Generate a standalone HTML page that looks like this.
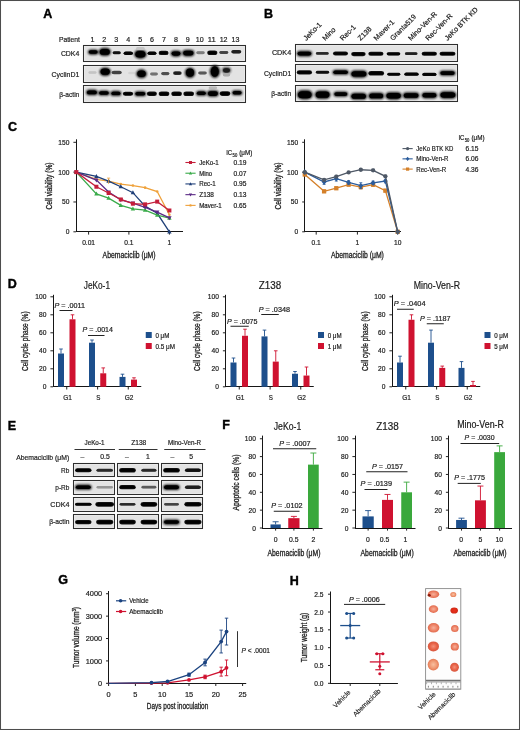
<!DOCTYPE html>
<html><head><meta charset="utf-8"><title>Figure</title>
<style>
html,body{margin:0;padding:0;background:#fff;}
svg{display:block;font-family:"Liberation Sans",sans-serif;will-change:transform;}
text{stroke:#1c1c1c;stroke-width:0.2px;}
</style></head>
<body>
<svg width="520" height="730" viewBox="0 0 520 730">
<defs>
<filter id="bl" x="-50%" y="-80%" width="200%" height="260%"><feGaussianBlur stdDeviation="0.75"/></filter>
<filter id="b5" x="-50%" y="-100%" width="200%" height="300%"><feGaussianBlur stdDeviation="0.5"/></filter>
<filter id="b6" x="-50%" y="-100%" width="200%" height="300%"><feGaussianBlur stdDeviation="0.6"/></filter>
<filter id="b7" x="-50%" y="-100%" width="200%" height="300%"><feGaussianBlur stdDeviation="0.7"/></filter>
<filter id="b8" x="-50%" y="-100%" width="200%" height="300%"><feGaussianBlur stdDeviation="0.8"/></filter>
<filter id="b9" x="-50%" y="-100%" width="200%" height="300%"><feGaussianBlur stdDeviation="0.9"/></filter>
<filter id="b10" x="-50%" y="-100%" width="200%" height="300%"><feGaussianBlur stdDeviation="1.0"/></filter>
<filter id="b11" x="-50%" y="-100%" width="200%" height="300%"><feGaussianBlur stdDeviation="1.1"/></filter>
<filter id="bl2" x="-50%" y="-100%" width="200%" height="300%"><feGaussianBlur stdDeviation="0.45"/></filter>
<radialGradient id="tgA"><stop offset="0" stop-color="#f6b09a"/><stop offset="0.6" stop-color="#ee8468"/><stop offset="1" stop-color="#e06a4c"/></radialGradient>
<radialGradient id="tgB"><stop offset="0" stop-color="#f8c0a0"/><stop offset="0.6" stop-color="#f09a74"/><stop offset="1" stop-color="#e47a54"/></radialGradient>
<radialGradient id="tgC"><stop offset="0" stop-color="#e8321c"/><stop offset="0.7" stop-color="#dc2a18"/><stop offset="1" stop-color="#c82818"/></radialGradient>
<radialGradient id="tgC2"><stop offset="0" stop-color="#f4907a"/><stop offset="0.6" stop-color="#e86448"/><stop offset="1" stop-color="#d8563e"/></radialGradient>
<filter id="bs" x="-50%" y="-50%" width="200%" height="200%"><feGaussianBlur stdDeviation="0.5"/></filter>
</defs>
<rect x="0" y="0" width="520" height="730" fill="#fff"/>
<text x="43.14" y="18.00" font-size="12.5" font-weight="bold" fill="#000" style="stroke:#000;stroke-width:0.4px">A</text>
<text x="59.00" y="42.20" font-size="7.5" text-anchor="start" fill="#1c1c1c" textLength="21.00" lengthAdjust="spacingAndGlyphs" >Patient</text>
<text x="92.40" y="42.20" font-size="7.5" text-anchor="middle" fill="#1c1c1c" textLength="3.96" lengthAdjust="spacingAndGlyphs" >1</text>
<text x="104.33" y="42.20" font-size="7.5" text-anchor="middle" fill="#1c1c1c" textLength="3.96" lengthAdjust="spacingAndGlyphs" >2</text>
<text x="116.26" y="42.20" font-size="7.5" text-anchor="middle" fill="#1c1c1c" textLength="3.96" lengthAdjust="spacingAndGlyphs" >3</text>
<text x="128.19" y="42.20" font-size="7.5" text-anchor="middle" fill="#1c1c1c" textLength="3.96" lengthAdjust="spacingAndGlyphs" >4</text>
<text x="140.12" y="42.20" font-size="7.5" text-anchor="middle" fill="#1c1c1c" textLength="3.96" lengthAdjust="spacingAndGlyphs" >5</text>
<text x="152.05" y="42.20" font-size="7.5" text-anchor="middle" fill="#1c1c1c" textLength="3.96" lengthAdjust="spacingAndGlyphs" >6</text>
<text x="163.98" y="42.20" font-size="7.5" text-anchor="middle" fill="#1c1c1c" textLength="3.96" lengthAdjust="spacingAndGlyphs" >7</text>
<text x="175.91" y="42.20" font-size="7.5" text-anchor="middle" fill="#1c1c1c" textLength="3.96" lengthAdjust="spacingAndGlyphs" >8</text>
<text x="187.84" y="42.20" font-size="7.5" text-anchor="middle" fill="#1c1c1c" textLength="3.96" lengthAdjust="spacingAndGlyphs" >9</text>
<text x="199.77" y="42.20" font-size="7.5" text-anchor="middle" fill="#1c1c1c" textLength="7.92" lengthAdjust="spacingAndGlyphs" >10</text>
<text x="211.70" y="42.20" font-size="7.5" text-anchor="middle" fill="#1c1c1c" textLength="7.92" lengthAdjust="spacingAndGlyphs" >11</text>
<text x="223.63" y="42.20" font-size="7.5" text-anchor="middle" fill="#1c1c1c" textLength="7.92" lengthAdjust="spacingAndGlyphs" >12</text>
<text x="235.56" y="42.20" font-size="7.5" text-anchor="middle" fill="#1c1c1c" textLength="7.92" lengthAdjust="spacingAndGlyphs" >13</text>
<rect x="83.50" y="45.50" width="162.00" height="16.00" fill="#e3e3e3" stroke="#2e2e2e" stroke-width="1.05"/>
<rect x="84.60" y="46.60" width="159.80" height="13.80" fill="none" stroke="#eeeeee" stroke-width="0.7"/>
<text x="79.30" y="56.14" font-size="7.6" text-anchor="end" fill="#1c1c1c" textLength="18.40" lengthAdjust="spacingAndGlyphs" >CDK4</text>
<rect x="83.50" y="65.50" width="162.00" height="17.00" fill="#e3e3e3" stroke="#2e2e2e" stroke-width="1.05"/>
<rect x="84.60" y="66.60" width="159.80" height="14.80" fill="none" stroke="#eeeeee" stroke-width="0.7"/>
<text x="79.30" y="76.54" font-size="7.6" text-anchor="end" fill="#1c1c1c" textLength="27.70" lengthAdjust="spacingAndGlyphs" >CyclinD1</text>
<rect x="83.50" y="85.50" width="162.00" height="17.00" fill="#e3e3e3" stroke="#2e2e2e" stroke-width="1.05"/>
<rect x="84.60" y="86.60" width="159.80" height="14.80" fill="none" stroke="#eeeeee" stroke-width="0.7"/>
<text x="79.30" y="96.54" font-size="7.6" text-anchor="end" fill="#1c1c1c" textLength="20.00" lengthAdjust="spacingAndGlyphs" >β-actin</text>
<rect x="87.89" y="49.49" width="10.61" height="5.21" rx="3.16" ry="2.61" fill="rgb(0,0,0)" filter="url(#b8)" opacity="0.9"/>
<rect x="88.73" y="50.33" width="8.93" height="3.53" rx="2.19" ry="1.77" fill="rgb(0,0,0)" filter="url(#b5)"/>
<rect x="98.65" y="47.85" width="12.31" height="8.11" rx="4.93" ry="4.05" fill="rgb(0,0,0)" filter="url(#b10)" opacity="0.9"/>
<rect x="99.75" y="48.95" width="10.09" height="5.89" rx="3.65" ry="2.95" fill="rgb(0,0,0)" filter="url(#b5)"/>
<rect x="112.62" y="51.27" width="8.17" height="3.07" rx="1.85" ry="1.53" fill="rgb(16,16,16)" filter="url(#b6)" opacity="0.9"/>
<rect x="112.85" y="51.50" width="7.70" height="2.60" rx="1.61" ry="1.30" fill="rgb(16,16,16)" filter="url(#b5)" opacity="0.85"/>
<rect x="123.60" y="51.45" width="9.40" height="3.50" rx="2.11" ry="1.75" fill="rgb(4,4,4)" filter="url(#b6)" opacity="0.9"/>
<rect x="123.85" y="51.70" width="8.90" height="3.00" rx="1.86" ry="1.50" fill="rgb(4,4,4)" filter="url(#b5)" opacity="0.85"/>
<rect x="134.17" y="49.77" width="12.46" height="8.86" rx="5.39" ry="4.43" fill="rgb(0,0,0)" filter="url(#b11)" opacity="0.9"/>
<rect x="135.35" y="50.95" width="10.10" height="6.50" rx="4.03" ry="3.25" fill="rgb(0,0,0)" filter="url(#b5)"/>
<rect x="147.50" y="51.45" width="9.00" height="3.50" rx="2.11" ry="1.75" fill="rgb(4,4,4)" filter="url(#b6)" opacity="0.9"/>
<rect x="147.75" y="51.70" width="8.50" height="3.00" rx="1.86" ry="1.50" fill="rgb(4,4,4)" filter="url(#b5)" opacity="0.85"/>
<rect x="158.62" y="50.72" width="9.95" height="4.35" rx="2.63" ry="2.18" fill="rgb(0,0,0)" filter="url(#b7)" opacity="0.9"/>
<rect x="159.38" y="51.48" width="8.43" height="2.83" rx="1.76" ry="1.42" fill="rgb(0,0,0)" filter="url(#b5)"/>
<rect x="170.67" y="50.57" width="10.67" height="6.07" rx="3.68" ry="3.03" fill="rgb(0,0,0)" filter="url(#b8)" opacity="0.9"/>
<rect x="171.59" y="51.49" width="8.83" height="4.23" rx="2.62" ry="2.11" fill="rgb(0,0,0)" filter="url(#b5)"/>
<rect x="182.19" y="49.64" width="12.23" height="6.93" rx="4.21" ry="3.46" fill="rgb(0,0,0)" filter="url(#b9)" opacity="0.9"/>
<rect x="183.19" y="50.64" width="10.23" height="4.93" rx="3.06" ry="2.46" fill="rgb(0,0,0)" filter="url(#b5)"/>
<rect x="196.27" y="51.32" width="8.46" height="2.96" rx="1.78" ry="1.48" fill="rgb(124,124,124)" filter="url(#b6)" opacity="0.9"/>
<rect x="196.50" y="51.55" width="8.00" height="2.50" rx="1.55" ry="1.25" fill="rgb(124,124,124)" filter="url(#b5)" opacity="0.85"/>
<rect x="207.27" y="50.52" width="10.07" height="4.57" rx="2.76" ry="2.28" fill="rgb(0,0,0)" filter="url(#b7)" opacity="0.9"/>
<rect x="208.05" y="51.30" width="8.51" height="3.01" rx="1.86" ry="1.50" fill="rgb(0,0,0)" filter="url(#b5)"/>
<rect x="219.32" y="51.02" width="8.96" height="2.96" rx="1.78" ry="1.48" fill="rgb(64,64,64)" filter="url(#b6)" opacity="0.9"/>
<rect x="219.55" y="51.25" width="8.50" height="2.50" rx="1.55" ry="1.25" fill="rgb(64,64,64)" filter="url(#b5)" opacity="0.85"/>
<rect x="231.30" y="50.05" width="10.00" height="3.50" rx="2.11" ry="1.75" fill="rgb(28,28,28)" filter="url(#b6)" opacity="0.9"/>
<rect x="231.55" y="50.30" width="9.50" height="3.00" rx="1.86" ry="1.50" fill="rgb(28,28,28)" filter="url(#b5)" opacity="0.85"/>
<rect x="88.44" y="71.29" width="8.12" height="2.42" rx="1.45" ry="1.21" fill="rgb(196,196,196)" filter="url(#b5)" opacity="0.9"/>
<rect x="88.65" y="71.50" width="7.70" height="2.00" rx="1.24" ry="1.00" fill="rgb(196,196,196)" filter="url(#b5)" opacity="0.85"/>
<rect x="99.43" y="67.43" width="11.53" height="8.53" rx="5.19" ry="4.27" fill="rgb(0,0,0)" filter="url(#b10)" opacity="0.9"/>
<rect x="100.58" y="68.58" width="9.24" height="6.24" rx="3.87" ry="3.12" fill="rgb(0,0,0)" filter="url(#b5)"/>
<rect x="111.70" y="70.85" width="10.00" height="3.50" rx="2.11" ry="1.75" fill="rgb(64,64,64)" filter="url(#b6)" opacity="0.9"/>
<rect x="111.95" y="71.10" width="9.50" height="3.00" rx="1.86" ry="1.50" fill="rgb(64,64,64)" filter="url(#b5)" opacity="0.85"/>
<rect x="128.29" y="71.79" width="6.42" height="2.42" rx="1.45" ry="1.21" fill="rgb(212,212,212)" filter="url(#b5)" opacity="0.9"/>
<rect x="128.50" y="72.00" width="6.00" height="2.00" rx="1.24" ry="1.00" fill="rgb(212,212,212)" filter="url(#b5)" opacity="0.85"/>
<rect x="136.07" y="69.37" width="10.86" height="8.86" rx="5.39" ry="4.43" fill="rgb(0,0,0)" filter="url(#b11)" opacity="0.9"/>
<rect x="137.25" y="70.55" width="8.50" height="6.50" rx="4.03" ry="3.25" fill="rgb(0,0,0)" filter="url(#b5)"/>
<rect x="150.12" y="72.52" width="7.76" height="2.96" rx="1.78" ry="1.48" fill="rgb(112,112,112)" filter="url(#b6)" opacity="0.9"/>
<rect x="150.35" y="72.75" width="7.30" height="2.50" rx="1.55" ry="1.25" fill="rgb(112,112,112)" filter="url(#b5)" opacity="0.85"/>
<rect x="161.21" y="71.96" width="8.18" height="3.28" rx="1.98" ry="1.64" fill="rgb(76,76,76)" filter="url(#b6)" opacity="0.9"/>
<rect x="161.45" y="72.20" width="7.70" height="2.80" rx="1.74" ry="1.40" fill="rgb(76,76,76)" filter="url(#b5)" opacity="0.85"/>
<rect x="173.09" y="71.24" width="8.61" height="3.71" rx="2.24" ry="1.86" fill="rgb(28,28,28)" filter="url(#b6)" opacity="0.9"/>
<rect x="173.80" y="71.95" width="7.21" height="2.31" rx="1.43" ry="1.15" fill="rgb(28,28,28)" filter="url(#b5)"/>
<rect x="184.76" y="67.41" width="10.48" height="10.58" rx="5.24" ry="5.29" fill="rgb(0,0,0)" filter="url(#b11)" opacity="0.9"/>
<rect x="185.97" y="68.62" width="8.06" height="8.16" rx="4.03" ry="4.08" fill="rgb(0,0,0)" filter="url(#b5)"/>
<rect x="198.27" y="71.52" width="8.46" height="2.96" rx="1.78" ry="1.48" fill="rgb(88,88,88)" filter="url(#b6)" opacity="0.9"/>
<rect x="198.50" y="71.75" width="8.00" height="2.50" rx="1.55" ry="1.25" fill="rgb(88,88,88)" filter="url(#b5)" opacity="0.85"/>
<rect x="209.61" y="65.06" width="10.38" height="12.88" rx="5.19" ry="6.44" fill="rgb(0,0,0)" filter="url(#b11)" opacity="0.9"/>
<rect x="210.82" y="66.27" width="7.96" height="10.46" rx="3.98" ry="5.23" fill="rgb(0,0,0)" filter="url(#b5)"/>
<rect x="222.16" y="67.21" width="8.68" height="6.18" rx="3.75" ry="3.09" fill="rgb(28,28,28)" filter="url(#b8)" opacity="0.9"/>
<rect x="223.09" y="68.14" width="6.82" height="4.32" rx="2.68" ry="2.16" fill="rgb(28,28,28)" filter="url(#b5)"/>
<rect x="222.75" y="73.05" width="7.50" height="3.50" rx="2.11" ry="1.75" fill="rgb(172,172,172)" filter="url(#b6)" opacity="0.9"/>
<rect x="223.00" y="73.30" width="7.00" height="3.00" rx="1.86" ry="1.50" fill="rgb(172,172,172)" filter="url(#b5)" opacity="0.85"/>
<rect x="86.08" y="89.58" width="11.64" height="5.64" rx="3.42" ry="2.82" fill="rgb(0,0,0)" filter="url(#b8)" opacity="0.9"/>
<rect x="86.96" y="90.46" width="9.88" height="3.88" rx="2.41" ry="1.94" fill="rgb(0,0,0)" filter="url(#b5)"/>
<rect x="98.25" y="90.45" width="11.30" height="5.10" rx="3.09" ry="2.55" fill="rgb(0,0,0)" filter="url(#b8)" opacity="0.9"/>
<rect x="99.08" y="91.28" width="9.64" height="3.44" rx="2.13" ry="1.72" fill="rgb(0,0,0)" filter="url(#b5)"/>
<rect x="110.50" y="90.85" width="10.80" height="5.10" rx="3.09" ry="2.55" fill="rgb(0,0,0)" filter="url(#b8)" opacity="0.9"/>
<rect x="111.33" y="91.68" width="9.14" height="3.44" rx="2.13" ry="1.72" fill="rgb(0,0,0)" filter="url(#b5)"/>
<rect x="122.83" y="91.73" width="10.34" height="4.14" rx="2.50" ry="2.07" fill="rgb(0,0,0)" filter="url(#b7)" opacity="0.9"/>
<rect x="123.57" y="92.47" width="8.86" height="2.66" rx="1.65" ry="1.33" fill="rgb(0,0,0)" filter="url(#b5)"/>
<rect x="134.50" y="91.25" width="11.60" height="5.10" rx="3.09" ry="2.55" fill="rgb(0,0,0)" filter="url(#b8)" opacity="0.9"/>
<rect x="135.33" y="92.08" width="9.94" height="3.44" rx="2.13" ry="1.72" fill="rgb(0,0,0)" filter="url(#b5)"/>
<rect x="146.87" y="91.62" width="10.05" height="4.35" rx="2.63" ry="2.18" fill="rgb(0,0,0)" filter="url(#b7)" opacity="0.9"/>
<rect x="147.63" y="92.38" width="8.53" height="2.83" rx="1.76" ry="1.42" fill="rgb(0,0,0)" filter="url(#b5)"/>
<rect x="158.72" y="91.52" width="10.57" height="4.57" rx="2.76" ry="2.28" fill="rgb(0,0,0)" filter="url(#b7)" opacity="0.9"/>
<rect x="159.50" y="92.30" width="9.01" height="3.01" rx="1.86" ry="1.50" fill="rgb(0,0,0)" filter="url(#b5)"/>
<rect x="171.32" y="91.52" width="10.57" height="4.57" rx="2.76" ry="2.28" fill="rgb(0,0,0)" filter="url(#b7)" opacity="0.9"/>
<rect x="172.10" y="92.30" width="9.01" height="3.01" rx="1.86" ry="1.50" fill="rgb(0,0,0)" filter="url(#b5)"/>
<rect x="183.42" y="91.52" width="10.57" height="4.57" rx="2.76" ry="2.28" fill="rgb(0,0,0)" filter="url(#b7)" opacity="0.9"/>
<rect x="184.20" y="92.30" width="9.01" height="3.01" rx="1.86" ry="1.50" fill="rgb(0,0,0)" filter="url(#b5)"/>
<rect x="196.00" y="90.65" width="10.60" height="5.10" rx="3.09" ry="2.55" fill="rgb(0,0,0)" filter="url(#b8)" opacity="0.9"/>
<rect x="196.83" y="91.48" width="8.94" height="3.44" rx="2.13" ry="1.72" fill="rgb(0,0,0)" filter="url(#b5)"/>
<rect x="207.05" y="90.35" width="11.70" height="6.50" rx="3.94" ry="3.25" fill="rgb(0,0,0)" filter="url(#b9)" opacity="0.9"/>
<rect x="208.01" y="91.31" width="9.78" height="4.58" rx="2.84" ry="2.29" fill="rgb(0,0,0)" filter="url(#b5)"/>
<rect x="219.72" y="91.32" width="10.57" height="4.57" rx="2.76" ry="2.28" fill="rgb(0,0,0)" filter="url(#b7)" opacity="0.9"/>
<rect x="220.50" y="92.10" width="9.01" height="3.01" rx="1.86" ry="1.50" fill="rgb(0,0,0)" filter="url(#b5)"/>
<rect x="231.80" y="90.25" width="10.60" height="5.10" rx="3.09" ry="2.55" fill="rgb(0,0,0)" filter="url(#b8)" opacity="0.9"/>
<rect x="232.63" y="91.08" width="8.94" height="3.44" rx="2.13" ry="1.72" fill="rgb(0,0,0)" filter="url(#b5)"/>
<rect x="208.69" y="86.59" width="8.42" height="2.42" rx="1.45" ry="1.21" fill="rgb(184,184,184)" filter="url(#b5)" opacity="0.9"/>
<rect x="208.90" y="86.80" width="8.00" height="2.00" rx="1.24" ry="1.00" fill="rgb(184,184,184)" filter="url(#b5)" opacity="0.85"/>
<rect x="136.17" y="47.02" width="8.46" height="2.96" rx="1.78" ry="1.48" fill="rgb(196,196,196)" filter="url(#b6)" opacity="0.9"/>
<rect x="136.40" y="47.25" width="8.00" height="2.50" rx="1.55" ry="1.25" fill="rgb(196,196,196)" filter="url(#b5)" opacity="0.85"/>
<text x="263.91" y="18.10" font-size="12.5" font-weight="bold" fill="#000" style="stroke:#000;stroke-width:0.4px">B</text>
<text transform="translate(306.20,41) rotate(-45)" font-size="7.1" fill="#1c1c1c">JeKo-1</text>
<text transform="translate(325.20,41) rotate(-45)" font-size="7.1" fill="#1c1c1c">Mino</text>
<text transform="translate(342.80,41) rotate(-45)" font-size="7.1" fill="#1c1c1c">Rec-1</text>
<text transform="translate(360.60,41) rotate(-45)" font-size="7.1" fill="#1c1c1c">Z138</text>
<text transform="translate(376.50,41) rotate(-45)" font-size="7.1" fill="#1c1c1c">Maver-1</text>
<text transform="translate(392.90,41) rotate(-45)" font-size="7.1" fill="#1c1c1c">Granta519</text>
<text transform="translate(411.00,41) rotate(-45)" font-size="7.1" fill="#1c1c1c">Mino-Ven-R</text>
<text transform="translate(428.30,41) rotate(-45)" font-size="7.1" fill="#1c1c1c">Rec-Ven-R</text>
<text transform="translate(447.40,41) rotate(-45)" font-size="7.1" fill="#1c1c1c">JeKo BTK KD</text>
<rect x="295.50" y="44.50" width="162.00" height="17.00" fill="#e3e3e3" stroke="#2e2e2e" stroke-width="1.05"/>
<rect x="296.60" y="45.60" width="159.80" height="14.80" fill="none" stroke="#eeeeee" stroke-width="0.7"/>
<text x="291.20" y="55.24" font-size="7.6" text-anchor="end" fill="#1c1c1c" textLength="19.30" lengthAdjust="spacingAndGlyphs" >CDK4</text>
<rect x="295.50" y="64.50" width="162.00" height="17.00" fill="#e3e3e3" stroke="#2e2e2e" stroke-width="1.05"/>
<rect x="296.60" y="65.60" width="159.80" height="14.80" fill="none" stroke="#eeeeee" stroke-width="0.7"/>
<text x="291.20" y="75.84" font-size="7.6" text-anchor="end" fill="#1c1c1c" textLength="27.30" lengthAdjust="spacingAndGlyphs" >CyclinD1</text>
<rect x="295.50" y="85.50" width="162.00" height="16.00" fill="#e3e3e3" stroke="#2e2e2e" stroke-width="1.05"/>
<rect x="296.60" y="86.60" width="159.80" height="13.80" fill="none" stroke="#eeeeee" stroke-width="0.7"/>
<text x="291.20" y="96.34" font-size="7.6" text-anchor="end" fill="#1c1c1c" textLength="20.00" lengthAdjust="spacingAndGlyphs" >β-actin</text>
<rect x="296.68" y="50.78" width="15.44" height="5.64" rx="3.42" ry="2.82" fill="rgb(0,0,0)" filter="url(#b8)" opacity="0.9"/>
<rect x="297.56" y="51.66" width="13.68" height="3.88" rx="2.41" ry="1.94" fill="rgb(0,0,0)" filter="url(#b5)"/>
<rect x="315.88" y="52.03" width="12.85" height="2.75" rx="1.65" ry="1.37" fill="rgb(40,40,40)" filter="url(#b6)" opacity="0.9"/>
<rect x="316.10" y="52.25" width="12.40" height="2.30" rx="1.43" ry="1.15" fill="rgb(40,40,40)" filter="url(#b5)" opacity="0.85"/>
<rect x="332.98" y="51.48" width="15.03" height="4.03" rx="2.44" ry="2.02" fill="rgb(0,0,0)" filter="url(#b7)" opacity="0.9"/>
<rect x="333.72" y="52.22" width="13.57" height="2.57" rx="1.59" ry="1.28" fill="rgb(0,0,0)" filter="url(#b5)"/>
<rect x="351.13" y="51.88" width="14.55" height="4.25" rx="2.57" ry="2.12" fill="rgb(0,0,0)" filter="url(#b7)" opacity="0.9"/>
<rect x="351.88" y="52.63" width="13.04" height="2.74" rx="1.70" ry="1.37" fill="rgb(0,0,0)" filter="url(#b5)"/>
<rect x="368.33" y="51.78" width="15.13" height="4.03" rx="2.44" ry="2.02" fill="rgb(0,0,0)" filter="url(#b7)" opacity="0.9"/>
<rect x="369.07" y="52.52" width="13.67" height="2.57" rx="1.59" ry="1.28" fill="rgb(0,0,0)" filter="url(#b5)"/>
<rect x="386.66" y="52.16" width="13.68" height="3.28" rx="1.98" ry="1.64" fill="rgb(4,4,4)" filter="url(#b6)" opacity="0.9"/>
<rect x="386.90" y="52.40" width="13.20" height="2.80" rx="1.74" ry="1.40" fill="rgb(4,4,4)" filter="url(#b5)" opacity="0.85"/>
<rect x="404.93" y="52.33" width="12.55" height="2.75" rx="1.65" ry="1.37" fill="rgb(28,28,28)" filter="url(#b6)" opacity="0.9"/>
<rect x="405.15" y="52.55" width="12.10" height="2.30" rx="1.43" ry="1.15" fill="rgb(28,28,28)" filter="url(#b5)" opacity="0.85"/>
<rect x="421.63" y="51.68" width="15.33" height="4.03" rx="2.44" ry="2.02" fill="rgb(0,0,0)" filter="url(#b7)" opacity="0.9"/>
<rect x="422.37" y="52.42" width="13.87" height="2.57" rx="1.59" ry="1.28" fill="rgb(0,0,0)" filter="url(#b5)"/>
<rect x="439.53" y="51.68" width="15.93" height="4.03" rx="2.44" ry="2.02" fill="rgb(0,0,0)" filter="url(#b7)" opacity="0.9"/>
<rect x="440.27" y="52.42" width="14.47" height="2.57" rx="1.59" ry="1.28" fill="rgb(0,0,0)" filter="url(#b5)"/>
<rect x="296.73" y="70.28" width="15.35" height="4.25" rx="2.57" ry="2.12" fill="rgb(0,0,0)" filter="url(#b7)" opacity="0.9"/>
<rect x="297.48" y="71.03" width="13.84" height="2.74" rx="1.70" ry="1.37" fill="rgb(0,0,0)" filter="url(#b5)"/>
<rect x="315.82" y="70.82" width="13.36" height="2.96" rx="1.78" ry="1.48" fill="rgb(16,16,16)" filter="url(#b6)" opacity="0.9"/>
<rect x="316.05" y="71.05" width="12.90" height="2.50" rx="1.55" ry="1.25" fill="rgb(16,16,16)" filter="url(#b5)" opacity="0.85"/>
<rect x="332.50" y="69.65" width="16.20" height="5.10" rx="3.09" ry="2.55" fill="rgb(0,0,0)" filter="url(#b8)" opacity="0.9"/>
<rect x="333.33" y="70.48" width="14.54" height="3.44" rx="2.13" ry="1.72" fill="rgb(0,0,0)" filter="url(#b5)"/>
<rect x="350.42" y="70.17" width="16.96" height="7.46" rx="4.54" ry="3.73" fill="rgb(0,0,0)" filter="url(#b10)" opacity="0.9"/>
<rect x="351.47" y="71.22" width="14.87" height="5.37" rx="3.33" ry="2.68" fill="rgb(0,0,0)" filter="url(#b5)"/>
<rect x="368.37" y="71.02" width="15.67" height="4.57" rx="2.76" ry="2.28" fill="rgb(0,0,0)" filter="url(#b7)" opacity="0.9"/>
<rect x="369.15" y="71.80" width="14.11" height="3.01" rx="1.86" ry="1.50" fill="rgb(0,0,0)" filter="url(#b5)"/>
<rect x="387.27" y="72.72" width="13.06" height="2.96" rx="1.78" ry="1.48" fill="rgb(4,4,4)" filter="url(#b6)" opacity="0.9"/>
<rect x="387.50" y="72.95" width="12.60" height="2.50" rx="1.55" ry="1.25" fill="rgb(4,4,4)" filter="url(#b5)" opacity="0.85"/>
<rect x="404.31" y="72.56" width="14.38" height="3.28" rx="1.98" ry="1.64" fill="rgb(0,0,0)" filter="url(#b6)" opacity="0.9"/>
<rect x="404.55" y="72.80" width="13.90" height="2.80" rx="1.74" ry="1.40" fill="rgb(0,0,0)" filter="url(#b5)" opacity="0.85"/>
<rect x="422.26" y="72.76" width="14.28" height="3.28" rx="1.98" ry="1.64" fill="rgb(0,0,0)" filter="url(#b6)" opacity="0.9"/>
<rect x="422.50" y="73.00" width="13.80" height="2.80" rx="1.74" ry="1.40" fill="rgb(0,0,0)" filter="url(#b5)" opacity="0.85"/>
<rect x="439.49" y="70.39" width="16.03" height="5.43" rx="3.29" ry="2.71" fill="rgb(0,0,0)" filter="url(#b8)" opacity="0.9"/>
<rect x="440.35" y="71.25" width="14.31" height="3.71" rx="2.30" ry="1.85" fill="rgb(0,0,0)" filter="url(#b5)"/>
<rect x="296.86" y="89.96" width="15.88" height="9.48" rx="5.77" ry="4.74" fill="rgb(0,0,0)" filter="url(#b11)" opacity="0.9"/>
<rect x="298.07" y="91.17" width="13.46" height="7.06" rx="4.38" ry="3.53" fill="rgb(0,0,0)" filter="url(#b5)"/>
<rect x="314.64" y="90.49" width="15.93" height="8.43" rx="5.13" ry="4.21" fill="rgb(0,0,0)" filter="url(#b10)" opacity="0.9"/>
<rect x="315.77" y="91.62" width="13.65" height="6.15" rx="3.81" ry="3.08" fill="rgb(0,0,0)" filter="url(#b5)"/>
<rect x="333.49" y="91.39" width="14.63" height="5.43" rx="3.29" ry="2.71" fill="rgb(0,0,0)" filter="url(#b8)" opacity="0.9"/>
<rect x="334.35" y="92.25" width="12.91" height="3.71" rx="2.30" ry="1.85" fill="rgb(0,0,0)" filter="url(#b5)"/>
<rect x="350.48" y="92.73" width="16.44" height="7.14" rx="4.34" ry="3.57" fill="rgb(0,0,0)" filter="url(#b9)" opacity="0.9"/>
<rect x="351.50" y="93.75" width="14.40" height="5.10" rx="3.16" ry="2.55" fill="rgb(0,0,0)" filter="url(#b5)"/>
<rect x="368.29" y="92.44" width="15.83" height="6.93" rx="4.21" ry="3.46" fill="rgb(0,0,0)" filter="url(#b9)" opacity="0.9"/>
<rect x="369.29" y="93.44" width="13.83" height="4.93" rx="3.06" ry="2.46" fill="rgb(0,0,0)" filter="url(#b5)"/>
<rect x="385.36" y="91.96" width="16.48" height="7.68" rx="4.67" ry="3.84" fill="rgb(0,0,0)" filter="url(#b10)" opacity="0.9"/>
<rect x="386.43" y="93.03" width="14.34" height="5.54" rx="3.44" ry="2.77" fill="rgb(0,0,0)" filter="url(#b5)"/>
<rect x="402.85" y="92.25" width="16.50" height="6.50" rx="3.94" ry="3.25" fill="rgb(0,0,0)" filter="url(#b9)" opacity="0.9"/>
<rect x="403.81" y="93.21" width="14.58" height="4.58" rx="2.84" ry="2.29" fill="rgb(0,0,0)" filter="url(#b5)"/>
<rect x="421.56" y="92.16" width="15.68" height="6.28" rx="3.81" ry="3.14" fill="rgb(0,0,0)" filter="url(#b9)" opacity="0.9"/>
<rect x="422.50" y="93.10" width="13.80" height="4.40" rx="2.73" ry="2.20" fill="rgb(0,0,0)" filter="url(#b5)"/>
<rect x="439.41" y="91.16" width="16.98" height="7.68" rx="4.67" ry="3.84" fill="rgb(0,0,0)" filter="url(#b10)" opacity="0.9"/>
<rect x="440.48" y="92.23" width="14.84" height="5.54" rx="3.44" ry="2.77" fill="rgb(0,0,0)" filter="url(#b5)"/>
<text x="8.04" y="130.60" font-size="12.5" font-weight="bold" fill="#000" style="stroke:#000;stroke-width:0.4px">C</text>
<line x1="76.50" y1="139.30" x2="76.50" y2="232.00" stroke="#161616" stroke-width="1.05"/>
<line x1="76.00" y1="231.50" x2="183.00" y2="231.50" stroke="#161616" stroke-width="1.05"/>
<line x1="73.40" y1="142.30" x2="76.00" y2="142.30" stroke="#222" stroke-width="1"/>
<text x="69.40" y="144.82" font-size="7" text-anchor="end" fill="#1c1c1c" textLength="11.09" lengthAdjust="spacingAndGlyphs" >150</text>
<line x1="73.40" y1="172.13" x2="76.00" y2="172.13" stroke="#222" stroke-width="1"/>
<text x="69.40" y="174.65" font-size="7" text-anchor="end" fill="#1c1c1c" textLength="11.09" lengthAdjust="spacingAndGlyphs" >100</text>
<line x1="73.40" y1="201.97" x2="76.00" y2="201.97" stroke="#222" stroke-width="1"/>
<text x="69.40" y="204.49" font-size="7" text-anchor="end" fill="#1c1c1c" textLength="7.40" lengthAdjust="spacingAndGlyphs" >50</text>
<line x1="73.40" y1="231.80" x2="76.00" y2="231.80" stroke="#222" stroke-width="1"/>
<text x="69.40" y="234.32" font-size="7" text-anchor="end" fill="#1c1c1c" textLength="3.70" lengthAdjust="spacingAndGlyphs" >0</text>
<line x1="88.60" y1="231.80" x2="88.60" y2="234.60" stroke="#222" stroke-width="1"/>
<text x="88.60" y="244.82" font-size="7" text-anchor="middle" fill="#1c1c1c" textLength="12.94" lengthAdjust="spacingAndGlyphs" >0.01</text>
<line x1="128.90" y1="231.80" x2="128.90" y2="234.60" stroke="#222" stroke-width="1"/>
<text x="128.90" y="244.82" font-size="7" text-anchor="middle" fill="#1c1c1c" textLength="9.24" lengthAdjust="spacingAndGlyphs" >0.1</text>
<line x1="169.40" y1="231.80" x2="169.40" y2="234.60" stroke="#222" stroke-width="1"/>
<text x="169.40" y="244.82" font-size="7" text-anchor="middle" fill="#1c1c1c" textLength="3.70" lengthAdjust="spacingAndGlyphs" >1</text>
<text transform="translate(51.52,186.00) rotate(-90)" x="0" y="0" font-size="8.4" text-anchor="middle" fill="#222" font-weight="normal" style="stroke-width:0.3px;stroke:#222" textLength="47.00" lengthAdjust="spacingAndGlyphs">Cell viability (%)</text>
<text x="102.60" y="258.10" font-size="8.6" text-anchor="start" fill="#222" textLength="53.00" lengthAdjust="spacingAndGlyphs" style="stroke-width:0.3px;stroke:#222">Abemaciclib (μM)</text>
<polyline points="76.30,172.13 96.40,179.29 108.60,181.08 120.80,184.06 132.90,185.56 145.10,187.64 157.20,191.52 169.40,214.79" fill="none" stroke="#efa13a" stroke-width="1.3"/>
<circle cx="76.30" cy="172.13" r="1.28" fill="#efa13a"/>
<circle cx="96.40" cy="179.29" r="1.28" fill="#efa13a"/>
<circle cx="108.60" cy="181.08" r="1.28" fill="#efa13a"/>
<circle cx="120.80" cy="184.06" r="1.28" fill="#efa13a"/>
<circle cx="132.90" cy="185.56" r="1.28" fill="#efa13a"/>
<circle cx="145.10" cy="187.64" r="1.28" fill="#efa13a"/>
<circle cx="157.20" cy="191.52" r="1.28" fill="#efa13a"/>
<circle cx="169.40" cy="214.79" r="1.28" fill="#efa13a"/>
<polyline points="76.30,172.13 96.40,176.31 108.60,181.08 120.80,186.75 132.90,192.66 145.10,206.14 157.20,213.30 169.40,231.80" fill="none" stroke="#1f3f78" stroke-width="1.3"/>
<polygon points="76.30,169.73 74.10,173.73 78.50,173.73" fill="#1f3f78"/>
<polygon points="96.40,173.91 94.20,177.91 98.60,177.91" fill="#1f3f78"/>
<polygon points="108.60,178.68 106.40,182.68 110.80,182.68" fill="#1f3f78"/>
<polygon points="120.80,184.35 118.60,188.35 123.00,188.35" fill="#1f3f78"/>
<polygon points="132.90,190.26 130.70,194.26 135.10,194.26" fill="#1f3f78"/>
<polygon points="145.10,203.74 142.90,207.74 147.30,207.74" fill="#1f3f78"/>
<polygon points="157.20,210.90 155.00,214.90 159.40,214.90" fill="#1f3f78"/>
<polygon points="169.40,229.40 167.20,233.40 171.60,233.40" fill="#1f3f78"/>
<polyline points="76.30,172.13 96.40,193.97 108.60,198.15 120.80,205.37 132.90,208.95 145.10,210.08 157.20,215.09 169.40,218.08" fill="none" stroke="#3aab4a" stroke-width="1.3"/>
<polygon points="76.30,169.73 74.10,173.73 78.50,173.73" fill="#3aab4a"/>
<polygon points="96.40,191.57 94.20,195.57 98.60,195.57" fill="#3aab4a"/>
<polygon points="108.60,195.75 106.40,199.75 110.80,199.75" fill="#3aab4a"/>
<polygon points="120.80,202.97 118.60,206.97 123.00,206.97" fill="#3aab4a"/>
<polygon points="132.90,206.55 130.70,210.55 135.10,210.55" fill="#3aab4a"/>
<polygon points="145.10,207.68 142.90,211.68 147.30,211.68" fill="#3aab4a"/>
<polygon points="157.20,212.69 155.00,216.69 159.40,216.69" fill="#3aab4a"/>
<polygon points="169.40,215.68 167.20,219.68 171.60,219.68" fill="#3aab4a"/>
<polyline points="76.30,172.13 96.40,180.07 108.60,192.06 120.80,199.88 132.90,203.04 145.10,207.34 157.20,212.11 169.40,217.90" fill="none" stroke="#5b2a86" stroke-width="1.3"/>
<polygon points="76.30,174.53 74.10,170.53 78.50,170.53" fill="#5b2a86"/>
<polygon points="96.40,182.47 94.20,178.47 98.60,178.47" fill="#5b2a86"/>
<polygon points="108.60,194.46 106.40,190.46 110.80,190.46" fill="#5b2a86"/>
<polygon points="120.80,202.28 118.60,198.28 123.00,198.28" fill="#5b2a86"/>
<polygon points="132.90,205.44 130.70,201.44 135.10,201.44" fill="#5b2a86"/>
<polygon points="145.10,209.74 142.90,205.74 147.30,205.74" fill="#5b2a86"/>
<polygon points="157.20,214.51 155.00,210.51 159.40,210.51" fill="#5b2a86"/>
<polygon points="169.40,220.30 167.20,216.30 171.60,216.30" fill="#5b2a86"/>
<polyline points="76.30,172.13 96.40,186.75 108.60,193.01 120.80,199.46 132.90,203.70 145.10,204.35 157.20,201.61 169.40,210.50" fill="none" stroke="#c41e3a" stroke-width="1.3"/>
<rect x="74.30" y="170.13" width="4.00" height="4.00" fill="#c41e3a"/>
<rect x="94.40" y="184.75" width="4.00" height="4.00" fill="#c41e3a"/>
<rect x="106.60" y="191.01" width="4.00" height="4.00" fill="#c41e3a"/>
<rect x="118.80" y="197.46" width="4.00" height="4.00" fill="#c41e3a"/>
<rect x="130.90" y="201.70" width="4.00" height="4.00" fill="#c41e3a"/>
<rect x="143.10" y="202.35" width="4.00" height="4.00" fill="#c41e3a"/>
<rect x="155.20" y="199.61" width="4.00" height="4.00" fill="#c41e3a"/>
<rect x="167.40" y="208.50" width="4.00" height="4.00" fill="#c41e3a"/>
<line x1="108.60" y1="184.06" x2="108.60" y2="178.10" stroke="#efa13a" stroke-width="0.8"/>
<line x1="107.00" y1="178.10" x2="110.20" y2="178.10" stroke="#efa13a" stroke-width="0.8"/>
<text x="226.20" y="154.72" font-size="7" text-anchor="start" fill="#1c1c1c" textLength="6.00" lengthAdjust="spacingAndGlyphs" >IC</text>
<text x="232.6" y="157.20" font-size="4.6" fill="#1c1c1c" textLength="4.6" lengthAdjust="spacingAndGlyphs">50</text>
<text x="239.20" y="154.72" font-size="7" text-anchor="start" fill="#1c1c1c" textLength="13.10" lengthAdjust="spacingAndGlyphs" >(μM)</text>
<line x1="185.40" y1="162.50" x2="195.60" y2="162.50" stroke="#c41e3a" stroke-width="1.1"/>
<rect x="189.00" y="161.00" width="3.00" height="3.00" fill="#c41e3a"/>
<text x="199.20" y="165.02" font-size="7" text-anchor="start" fill="#1c1c1c" textLength="19.47" lengthAdjust="spacingAndGlyphs" >JeKo-1</text>
<text x="233.50" y="165.02" font-size="7" text-anchor="start" fill="#1c1c1c" textLength="12.94" lengthAdjust="spacingAndGlyphs" >0.19</text>
<line x1="185.40" y1="173.22" x2="195.60" y2="173.22" stroke="#3aab4a" stroke-width="1.1"/>
<polygon points="190.50,171.42 188.85,174.42 192.15,174.42" fill="#3aab4a"/>
<text x="199.20" y="175.74" font-size="7" text-anchor="start" fill="#1c1c1c" textLength="12.90" lengthAdjust="spacingAndGlyphs" >Mino</text>
<text x="233.50" y="175.74" font-size="7" text-anchor="start" fill="#1c1c1c" textLength="12.94" lengthAdjust="spacingAndGlyphs" >0.07</text>
<line x1="185.40" y1="183.94" x2="195.60" y2="183.94" stroke="#1f3f78" stroke-width="1.1"/>
<polygon points="190.50,182.14 188.85,185.14 192.15,185.14" fill="#1f3f78"/>
<text x="199.20" y="186.46" font-size="7" text-anchor="start" fill="#1c1c1c" textLength="16.49" lengthAdjust="spacingAndGlyphs" >Rec-1</text>
<text x="233.50" y="186.46" font-size="7" text-anchor="start" fill="#1c1c1c" textLength="12.94" lengthAdjust="spacingAndGlyphs" >0.95</text>
<line x1="185.40" y1="194.66" x2="195.60" y2="194.66" stroke="#5b2a86" stroke-width="1.1"/>
<polygon points="190.50,196.46 188.85,193.46 192.15,193.46" fill="#5b2a86"/>
<text x="199.20" y="197.18" font-size="7" text-anchor="start" fill="#1c1c1c" textLength="14.73" lengthAdjust="spacingAndGlyphs" >Z138</text>
<text x="233.50" y="197.18" font-size="7" text-anchor="start" fill="#1c1c1c" textLength="12.94" lengthAdjust="spacingAndGlyphs" >0.13</text>
<line x1="185.40" y1="205.38" x2="195.60" y2="205.38" stroke="#efa13a" stroke-width="1.1"/>
<circle cx="190.50" cy="205.38" r="1.20" fill="#efa13a"/>
<text x="199.20" y="207.90" font-size="7" text-anchor="start" fill="#1c1c1c" textLength="22.44" lengthAdjust="spacingAndGlyphs" >Maver-1</text>
<text x="233.50" y="207.90" font-size="7" text-anchor="start" fill="#1c1c1c" textLength="12.94" lengthAdjust="spacingAndGlyphs" >0.65</text>
<line x1="304.50" y1="139.30" x2="304.50" y2="232.00" stroke="#161616" stroke-width="1.05"/>
<line x1="304.00" y1="231.50" x2="401.00" y2="231.50" stroke="#161616" stroke-width="1.05"/>
<line x1="302.20" y1="142.30" x2="304.80" y2="142.30" stroke="#222" stroke-width="1"/>
<text x="298.20" y="144.82" font-size="7" text-anchor="end" fill="#1c1c1c" textLength="11.09" lengthAdjust="spacingAndGlyphs" >150</text>
<line x1="302.20" y1="172.13" x2="304.80" y2="172.13" stroke="#222" stroke-width="1"/>
<text x="298.20" y="174.65" font-size="7" text-anchor="end" fill="#1c1c1c" textLength="11.09" lengthAdjust="spacingAndGlyphs" >100</text>
<line x1="302.20" y1="201.97" x2="304.80" y2="201.97" stroke="#222" stroke-width="1"/>
<text x="298.20" y="204.49" font-size="7" text-anchor="end" fill="#1c1c1c" textLength="7.40" lengthAdjust="spacingAndGlyphs" >50</text>
<line x1="302.20" y1="231.80" x2="304.80" y2="231.80" stroke="#222" stroke-width="1"/>
<text x="298.20" y="234.32" font-size="7" text-anchor="end" fill="#1c1c1c" textLength="3.70" lengthAdjust="spacingAndGlyphs" >0</text>
<line x1="316.20" y1="231.80" x2="316.20" y2="234.60" stroke="#222" stroke-width="1"/>
<text x="316.20" y="244.82" font-size="7" text-anchor="middle" fill="#1c1c1c" textLength="9.24" lengthAdjust="spacingAndGlyphs" >0.1</text>
<line x1="357.40" y1="231.80" x2="357.40" y2="234.60" stroke="#222" stroke-width="1"/>
<text x="357.40" y="244.82" font-size="7" text-anchor="middle" fill="#1c1c1c" textLength="3.70" lengthAdjust="spacingAndGlyphs" >1</text>
<line x1="397.70" y1="231.80" x2="397.70" y2="234.60" stroke="#222" stroke-width="1"/>
<text x="397.70" y="244.82" font-size="7" text-anchor="middle" fill="#1c1c1c" textLength="7.40" lengthAdjust="spacingAndGlyphs" >10</text>
<text transform="translate(280.52,186.00) rotate(-90)" x="0" y="0" font-size="8.4" text-anchor="middle" fill="#222" font-weight="normal" style="stroke-width:0.3px;stroke:#222" textLength="47.00" lengthAdjust="spacingAndGlyphs">Cell viability (%)</text>
<text x="357.40" y="258.30" font-size="8.6" text-anchor="middle" fill="#222" textLength="53.00" lengthAdjust="spacingAndGlyphs" style="stroke-width:0.3px;stroke:#222">Abemaciclib (μM)</text>
<polyline points="304.80,174.52 324.10,191.34 336.30,188.24 348.60,184.66 360.80,187.05 373.10,184.66 385.40,190.63 397.70,231.80" fill="none" stroke="#d4802a" stroke-width="1.3"/>
<rect x="302.65" y="172.37" width="4.30" height="4.30" fill="#d4802a"/>
<line x1="324.10" y1="192.54" x2="324.10" y2="190.15" stroke="#d4802a" stroke-width="0.8"/>
<line x1="322.60" y1="190.15" x2="325.60" y2="190.15" stroke="#d4802a" stroke-width="0.8"/>
<line x1="322.60" y1="192.54" x2="325.60" y2="192.54" stroke="#d4802a" stroke-width="0.8"/>
<rect x="321.95" y="189.19" width="4.30" height="4.30" fill="#d4802a"/>
<line x1="336.30" y1="189.43" x2="336.30" y2="187.05" stroke="#d4802a" stroke-width="0.8"/>
<line x1="334.80" y1="187.05" x2="337.80" y2="187.05" stroke="#d4802a" stroke-width="0.8"/>
<line x1="334.80" y1="189.43" x2="337.80" y2="189.43" stroke="#d4802a" stroke-width="0.8"/>
<rect x="334.15" y="186.09" width="4.30" height="4.30" fill="#d4802a"/>
<line x1="348.60" y1="185.85" x2="348.60" y2="183.47" stroke="#d4802a" stroke-width="0.8"/>
<line x1="347.10" y1="183.47" x2="350.10" y2="183.47" stroke="#d4802a" stroke-width="0.8"/>
<line x1="347.10" y1="185.85" x2="350.10" y2="185.85" stroke="#d4802a" stroke-width="0.8"/>
<rect x="346.45" y="182.51" width="4.30" height="4.30" fill="#d4802a"/>
<line x1="360.80" y1="188.84" x2="360.80" y2="185.26" stroke="#d4802a" stroke-width="0.8"/>
<line x1="359.30" y1="185.26" x2="362.30" y2="185.26" stroke="#d4802a" stroke-width="0.8"/>
<line x1="359.30" y1="188.84" x2="362.30" y2="188.84" stroke="#d4802a" stroke-width="0.8"/>
<rect x="358.65" y="184.90" width="4.30" height="4.30" fill="#d4802a"/>
<line x1="373.10" y1="186.45" x2="373.10" y2="182.87" stroke="#d4802a" stroke-width="0.8"/>
<line x1="371.60" y1="182.87" x2="374.60" y2="182.87" stroke="#d4802a" stroke-width="0.8"/>
<line x1="371.60" y1="186.45" x2="374.60" y2="186.45" stroke="#d4802a" stroke-width="0.8"/>
<rect x="370.95" y="182.51" width="4.30" height="4.30" fill="#d4802a"/>
<line x1="385.40" y1="191.82" x2="385.40" y2="189.43" stroke="#d4802a" stroke-width="0.8"/>
<line x1="383.90" y1="189.43" x2="386.90" y2="189.43" stroke="#d4802a" stroke-width="0.8"/>
<line x1="383.90" y1="191.82" x2="386.90" y2="191.82" stroke="#d4802a" stroke-width="0.8"/>
<rect x="383.25" y="188.48" width="4.30" height="4.30" fill="#d4802a"/>
<rect x="395.55" y="229.65" width="4.30" height="4.30" fill="#d4802a"/>
<polyline points="304.80,172.13 324.10,181.98 336.30,178.69 348.60,182.45 360.80,185.68 373.10,182.87 385.40,181.08 397.70,231.80" fill="none" stroke="#2b5c9c" stroke-width="1.3"/>
<polygon points="304.80,169.34 307.17,172.13 304.80,174.92 302.44,172.13" fill="#2b5c9c"/>
<line x1="324.10" y1="184.36" x2="324.10" y2="179.59" stroke="#2b5c9c" stroke-width="0.8"/>
<line x1="322.60" y1="179.59" x2="325.60" y2="179.59" stroke="#2b5c9c" stroke-width="0.8"/>
<line x1="322.60" y1="184.36" x2="325.60" y2="184.36" stroke="#2b5c9c" stroke-width="0.8"/>
<polygon points="324.10,179.18 326.47,181.98 324.10,184.77 321.74,181.98" fill="#2b5c9c"/>
<line x1="336.30" y1="181.08" x2="336.30" y2="176.31" stroke="#2b5c9c" stroke-width="0.8"/>
<line x1="334.80" y1="176.31" x2="337.80" y2="176.31" stroke="#2b5c9c" stroke-width="0.8"/>
<line x1="334.80" y1="181.08" x2="337.80" y2="181.08" stroke="#2b5c9c" stroke-width="0.8"/>
<polygon points="336.30,175.90 338.67,178.69 336.30,181.49 333.94,178.69" fill="#2b5c9c"/>
<line x1="348.60" y1="184.24" x2="348.60" y2="180.66" stroke="#2b5c9c" stroke-width="0.8"/>
<line x1="347.10" y1="180.66" x2="350.10" y2="180.66" stroke="#2b5c9c" stroke-width="0.8"/>
<line x1="347.10" y1="184.24" x2="350.10" y2="184.24" stroke="#2b5c9c" stroke-width="0.8"/>
<polygon points="348.60,179.66 350.97,182.45 348.60,185.25 346.24,182.45" fill="#2b5c9c"/>
<line x1="360.80" y1="188.66" x2="360.80" y2="182.69" stroke="#2b5c9c" stroke-width="0.8"/>
<line x1="359.30" y1="182.69" x2="362.30" y2="182.69" stroke="#2b5c9c" stroke-width="0.8"/>
<line x1="359.30" y1="188.66" x2="362.30" y2="188.66" stroke="#2b5c9c" stroke-width="0.8"/>
<polygon points="360.80,182.88 363.17,185.68 360.80,188.47 358.44,185.68" fill="#2b5c9c"/>
<line x1="373.10" y1="184.66" x2="373.10" y2="181.08" stroke="#2b5c9c" stroke-width="0.8"/>
<line x1="371.60" y1="181.08" x2="374.60" y2="181.08" stroke="#2b5c9c" stroke-width="0.8"/>
<line x1="371.60" y1="184.66" x2="374.60" y2="184.66" stroke="#2b5c9c" stroke-width="0.8"/>
<polygon points="373.10,180.08 375.47,182.87 373.10,185.67 370.74,182.87" fill="#2b5c9c"/>
<line x1="385.40" y1="182.87" x2="385.40" y2="179.29" stroke="#2b5c9c" stroke-width="0.8"/>
<line x1="383.90" y1="179.29" x2="386.90" y2="179.29" stroke="#2b5c9c" stroke-width="0.8"/>
<line x1="383.90" y1="182.87" x2="386.90" y2="182.87" stroke="#2b5c9c" stroke-width="0.8"/>
<polygon points="385.40,178.29 387.76,181.08 385.40,183.88 383.03,181.08" fill="#2b5c9c"/>
<polygon points="397.70,229.01 400.06,231.80 397.70,234.59 395.33,231.80" fill="#2b5c9c"/>
<polyline points="304.80,172.13 324.10,179.89 336.30,176.55 348.60,172.43 360.80,169.74 373.10,170.34 385.40,176.31 397.70,231.80" fill="none" stroke="#4e5866" stroke-width="1.3"/>
<circle cx="304.80" cy="172.13" r="2.15" fill="#4e5866"/>
<line x1="324.10" y1="181.08" x2="324.10" y2="178.69" stroke="#4e5866" stroke-width="0.8"/>
<line x1="322.60" y1="178.69" x2="325.60" y2="178.69" stroke="#4e5866" stroke-width="0.8"/>
<line x1="322.60" y1="181.08" x2="325.60" y2="181.08" stroke="#4e5866" stroke-width="0.8"/>
<circle cx="324.10" cy="179.89" r="2.15" fill="#4e5866"/>
<line x1="336.30" y1="177.74" x2="336.30" y2="175.35" stroke="#4e5866" stroke-width="0.8"/>
<line x1="334.80" y1="175.35" x2="337.80" y2="175.35" stroke="#4e5866" stroke-width="0.8"/>
<line x1="334.80" y1="177.74" x2="337.80" y2="177.74" stroke="#4e5866" stroke-width="0.8"/>
<circle cx="336.30" cy="176.55" r="2.15" fill="#4e5866"/>
<line x1="348.60" y1="173.32" x2="348.60" y2="171.53" stroke="#4e5866" stroke-width="0.8"/>
<line x1="347.10" y1="171.53" x2="350.10" y2="171.53" stroke="#4e5866" stroke-width="0.8"/>
<line x1="347.10" y1="173.32" x2="350.10" y2="173.32" stroke="#4e5866" stroke-width="0.8"/>
<circle cx="348.60" cy="172.43" r="2.15" fill="#4e5866"/>
<line x1="360.80" y1="170.64" x2="360.80" y2="168.85" stroke="#4e5866" stroke-width="0.8"/>
<line x1="359.30" y1="168.85" x2="362.30" y2="168.85" stroke="#4e5866" stroke-width="0.8"/>
<line x1="359.30" y1="170.64" x2="362.30" y2="170.64" stroke="#4e5866" stroke-width="0.8"/>
<circle cx="360.80" cy="169.74" r="2.15" fill="#4e5866"/>
<line x1="373.10" y1="171.53" x2="373.10" y2="169.15" stroke="#4e5866" stroke-width="0.8"/>
<line x1="371.60" y1="169.15" x2="374.60" y2="169.15" stroke="#4e5866" stroke-width="0.8"/>
<line x1="371.60" y1="171.53" x2="374.60" y2="171.53" stroke="#4e5866" stroke-width="0.8"/>
<circle cx="373.10" cy="170.34" r="2.15" fill="#4e5866"/>
<line x1="385.40" y1="177.50" x2="385.40" y2="175.11" stroke="#4e5866" stroke-width="0.8"/>
<line x1="383.90" y1="175.11" x2="386.90" y2="175.11" stroke="#4e5866" stroke-width="0.8"/>
<line x1="383.90" y1="177.50" x2="386.90" y2="177.50" stroke="#4e5866" stroke-width="0.8"/>
<circle cx="385.40" cy="176.31" r="2.15" fill="#4e5866"/>
<circle cx="397.70" cy="231.80" r="2.15" fill="#4e5866"/>
<text x="458.40" y="139.82" font-size="7" text-anchor="start" fill="#1c1c1c" textLength="6.00" lengthAdjust="spacingAndGlyphs" >IC</text>
<text x="464.8" y="142.30" font-size="4.6" fill="#1c1c1c" textLength="4.6" lengthAdjust="spacingAndGlyphs">50</text>
<text x="471.40" y="139.82" font-size="7" text-anchor="start" fill="#1c1c1c" textLength="13.10" lengthAdjust="spacingAndGlyphs" >(μM)</text>
<line x1="402.50" y1="148.60" x2="412.70" y2="148.60" stroke="#4e5866" stroke-width="1.1"/>
<circle cx="407.60" cy="148.60" r="1.60" fill="#4e5866"/>
<text x="416.30" y="151.12" font-size="7" text-anchor="start" fill="#1c1c1c" textLength="37.09" lengthAdjust="spacingAndGlyphs" >JeKo BTK KD</text>
<text x="465.50" y="151.12" font-size="7" text-anchor="start" fill="#1c1c1c" textLength="12.94" lengthAdjust="spacingAndGlyphs" >6.15</text>
<line x1="402.50" y1="158.85" x2="412.70" y2="158.85" stroke="#2b5c9c" stroke-width="1.1"/>
<polygon points="407.60,156.77 409.36,158.85 407.60,160.93 405.84,158.85" fill="#2b5c9c"/>
<text x="416.30" y="161.37" font-size="7" text-anchor="start" fill="#1c1c1c" textLength="32.21" lengthAdjust="spacingAndGlyphs" >Mino-Ven-R</text>
<text x="465.50" y="161.37" font-size="7" text-anchor="start" fill="#1c1c1c" textLength="12.94" lengthAdjust="spacingAndGlyphs" >6.06</text>
<line x1="402.50" y1="169.10" x2="412.70" y2="169.10" stroke="#d4802a" stroke-width="1.1"/>
<rect x="406.00" y="167.50" width="3.20" height="3.20" fill="#d4802a"/>
<text x="416.30" y="171.62" font-size="7" text-anchor="start" fill="#1c1c1c" textLength="29.89" lengthAdjust="spacingAndGlyphs" >Rec-Ven-R</text>
<text x="465.50" y="171.62" font-size="7" text-anchor="start" fill="#1c1c1c" textLength="12.94" lengthAdjust="spacingAndGlyphs" >4.36</text>
<text x="7.71" y="288.40" font-size="12.5" font-weight="bold" fill="#000" style="stroke:#000;stroke-width:0.4px">D</text>
<line x1="53.50" y1="294.80" x2="53.50" y2="387.00" stroke="#161616" stroke-width="1.05"/>
<line x1="53.00" y1="386.50" x2="141.25" y2="386.50" stroke="#161616" stroke-width="1.05"/>
<line x1="50.40" y1="386.80" x2="53.00" y2="386.80" stroke="#222" stroke-width="1"/>
<text x="46.40" y="389.32" font-size="7" text-anchor="end" fill="#1c1c1c" textLength="3.70" lengthAdjust="spacingAndGlyphs" >0</text>
<line x1="50.40" y1="368.80" x2="53.00" y2="368.80" stroke="#222" stroke-width="1"/>
<text x="46.40" y="371.32" font-size="7" text-anchor="end" fill="#1c1c1c" textLength="7.40" lengthAdjust="spacingAndGlyphs" >20</text>
<line x1="50.40" y1="350.80" x2="53.00" y2="350.80" stroke="#222" stroke-width="1"/>
<text x="46.40" y="353.32" font-size="7" text-anchor="end" fill="#1c1c1c" textLength="7.40" lengthAdjust="spacingAndGlyphs" >40</text>
<line x1="50.40" y1="332.80" x2="53.00" y2="332.80" stroke="#222" stroke-width="1"/>
<text x="46.40" y="335.32" font-size="7" text-anchor="end" fill="#1c1c1c" textLength="7.40" lengthAdjust="spacingAndGlyphs" >60</text>
<line x1="50.40" y1="314.80" x2="53.00" y2="314.80" stroke="#222" stroke-width="1"/>
<text x="46.40" y="317.32" font-size="7" text-anchor="end" fill="#1c1c1c" textLength="7.40" lengthAdjust="spacingAndGlyphs" >80</text>
<line x1="50.40" y1="296.80" x2="53.00" y2="296.80" stroke="#222" stroke-width="1"/>
<text x="46.40" y="299.32" font-size="7" text-anchor="end" fill="#1c1c1c" textLength="11.09" lengthAdjust="spacingAndGlyphs" >100</text>
<line x1="61.00" y1="349.00" x2="61.00" y2="353.50" stroke="#1d4f8c" stroke-width="0.9"/>
<line x1="59.20" y1="349.00" x2="62.80" y2="349.00" stroke="#1d4f8c" stroke-width="0.9"/>
<rect x="58.00" y="353.50" width="6.00" height="33.30" fill="#1d4f8c"/>
<line x1="72.50" y1="314.80" x2="72.50" y2="319.30" stroke="#cf1230" stroke-width="0.9"/>
<line x1="70.70" y1="314.80" x2="74.30" y2="314.80" stroke="#cf1230" stroke-width="0.9"/>
<rect x="69.50" y="319.30" width="6.00" height="67.50" fill="#cf1230"/>
<line x1="66.75" y1="387.00" x2="66.75" y2="389.50" stroke="#222" stroke-width="1"/>
<text x="67.55" y="400.13" font-size="7.3" text-anchor="middle" fill="#1c1c1c" textLength="8.68" lengthAdjust="spacingAndGlyphs" >G1</text>
<line x1="92.00" y1="340.00" x2="92.00" y2="342.70" stroke="#1d4f8c" stroke-width="0.9"/>
<line x1="90.20" y1="340.00" x2="93.80" y2="340.00" stroke="#1d4f8c" stroke-width="0.9"/>
<rect x="89.00" y="342.70" width="6.00" height="44.10" fill="#1d4f8c"/>
<line x1="103.25" y1="367.90" x2="103.25" y2="373.30" stroke="#cf1230" stroke-width="0.9"/>
<line x1="101.45" y1="367.90" x2="105.05" y2="367.90" stroke="#cf1230" stroke-width="0.9"/>
<rect x="100.25" y="373.30" width="6.00" height="13.50" fill="#cf1230"/>
<line x1="97.62" y1="387.00" x2="97.62" y2="389.50" stroke="#222" stroke-width="1"/>
<text x="98.42" y="400.13" font-size="7.3" text-anchor="middle" fill="#1c1c1c" textLength="4.14" lengthAdjust="spacingAndGlyphs" >S</text>
<line x1="122.50" y1="374.20" x2="122.50" y2="376.90" stroke="#1d4f8c" stroke-width="0.9"/>
<line x1="120.70" y1="374.20" x2="124.30" y2="374.20" stroke="#1d4f8c" stroke-width="0.9"/>
<rect x="119.50" y="376.90" width="6.00" height="9.90" fill="#1d4f8c"/>
<line x1="134.00" y1="377.80" x2="134.00" y2="379.60" stroke="#cf1230" stroke-width="0.9"/>
<line x1="132.20" y1="377.80" x2="135.80" y2="377.80" stroke="#cf1230" stroke-width="0.9"/>
<rect x="131.00" y="379.60" width="6.00" height="7.20" fill="#cf1230"/>
<line x1="128.25" y1="387.00" x2="128.25" y2="389.50" stroke="#222" stroke-width="1"/>
<text x="129.05" y="400.13" font-size="7.3" text-anchor="middle" fill="#1c1c1c" textLength="8.68" lengthAdjust="spacingAndGlyphs" >G2</text>
<text x="83.75" y="288.61" font-size="10.3" text-anchor="start" fill="#1a1a1a" textLength="26.25" lengthAdjust="spacingAndGlyphs" >JeKo-1</text>
<rect x="145.75" y="332.00" width="6.00" height="6.00" fill="#1d4f8c"/>
<rect x="145.75" y="343.00" width="6.00" height="6.00" fill="#cf1230"/>
<text x="155.45" y="337.82" font-size="7" text-anchor="start" fill="#1c1c1c" textLength="13.93" lengthAdjust="spacingAndGlyphs" >0 μM</text>
<text x="155.45" y="348.52" font-size="7" text-anchor="start" fill="#1c1c1c" textLength="19.48" lengthAdjust="spacingAndGlyphs" >0.5 μM</text>
<text x="54.50" y="307.59" font-size="7.2" text-anchor="start" fill="#1c1c1c" textLength="30.50" lengthAdjust="spacingAndGlyphs" ><tspan font-style="italic">P</tspan> = .0011</text>
<line x1="59.50" y1="310.50" x2="72.50" y2="310.50" stroke="#222" stroke-width="1"/>
<text x="82.50" y="332.09" font-size="7.2" text-anchor="start" fill="#1c1c1c" textLength="30.50" lengthAdjust="spacingAndGlyphs" ><tspan font-style="italic">P</tspan> = .0014</text>
<line x1="88.00" y1="335.50" x2="104.50" y2="335.50" stroke="#222" stroke-width="1"/>
<text transform="translate(28.02,341.20) rotate(-90)" x="0" y="0" font-size="8.4" text-anchor="middle" fill="#222" font-weight="normal" style="stroke-width:0.3px;stroke:#222" textLength="59.60" lengthAdjust="spacingAndGlyphs">Cell cycle phase (%)</text>
<line x1="225.50" y1="294.80" x2="225.50" y2="387.00" stroke="#161616" stroke-width="1.05"/>
<line x1="225.00" y1="386.50" x2="313.75" y2="386.50" stroke="#161616" stroke-width="1.05"/>
<line x1="222.90" y1="386.80" x2="225.50" y2="386.80" stroke="#222" stroke-width="1"/>
<text x="218.90" y="389.32" font-size="7" text-anchor="end" fill="#1c1c1c" textLength="3.70" lengthAdjust="spacingAndGlyphs" >0</text>
<line x1="222.90" y1="368.80" x2="225.50" y2="368.80" stroke="#222" stroke-width="1"/>
<text x="218.90" y="371.32" font-size="7" text-anchor="end" fill="#1c1c1c" textLength="7.40" lengthAdjust="spacingAndGlyphs" >20</text>
<line x1="222.90" y1="350.80" x2="225.50" y2="350.80" stroke="#222" stroke-width="1"/>
<text x="218.90" y="353.32" font-size="7" text-anchor="end" fill="#1c1c1c" textLength="7.40" lengthAdjust="spacingAndGlyphs" >40</text>
<line x1="222.90" y1="332.80" x2="225.50" y2="332.80" stroke="#222" stroke-width="1"/>
<text x="218.90" y="335.32" font-size="7" text-anchor="end" fill="#1c1c1c" textLength="7.40" lengthAdjust="spacingAndGlyphs" >60</text>
<line x1="222.90" y1="314.80" x2="225.50" y2="314.80" stroke="#222" stroke-width="1"/>
<text x="218.90" y="317.32" font-size="7" text-anchor="end" fill="#1c1c1c" textLength="7.40" lengthAdjust="spacingAndGlyphs" >80</text>
<line x1="222.90" y1="296.80" x2="225.50" y2="296.80" stroke="#222" stroke-width="1"/>
<text x="218.90" y="299.32" font-size="7" text-anchor="end" fill="#1c1c1c" textLength="11.09" lengthAdjust="spacingAndGlyphs" >100</text>
<line x1="233.50" y1="358.00" x2="233.50" y2="362.50" stroke="#1d4f8c" stroke-width="0.9"/>
<line x1="231.70" y1="358.00" x2="235.30" y2="358.00" stroke="#1d4f8c" stroke-width="0.9"/>
<rect x="230.50" y="362.50" width="6.00" height="24.30" fill="#1d4f8c"/>
<line x1="245.00" y1="329.20" x2="245.00" y2="335.77" stroke="#cf1230" stroke-width="0.9"/>
<line x1="243.20" y1="329.20" x2="246.80" y2="329.20" stroke="#cf1230" stroke-width="0.9"/>
<rect x="242.00" y="335.77" width="6.00" height="51.03" fill="#cf1230"/>
<line x1="239.25" y1="387.00" x2="239.25" y2="389.50" stroke="#222" stroke-width="1"/>
<text x="240.05" y="400.13" font-size="7.3" text-anchor="middle" fill="#1c1c1c" textLength="8.68" lengthAdjust="spacingAndGlyphs" >G1</text>
<line x1="264.50" y1="330.10" x2="264.50" y2="336.40" stroke="#1d4f8c" stroke-width="0.9"/>
<line x1="262.70" y1="330.10" x2="266.30" y2="330.10" stroke="#1d4f8c" stroke-width="0.9"/>
<rect x="261.50" y="336.40" width="6.00" height="50.40" fill="#1d4f8c"/>
<line x1="275.75" y1="350.80" x2="275.75" y2="361.60" stroke="#cf1230" stroke-width="0.9"/>
<line x1="273.95" y1="350.80" x2="277.55" y2="350.80" stroke="#cf1230" stroke-width="0.9"/>
<rect x="272.75" y="361.60" width="6.00" height="25.20" fill="#cf1230"/>
<line x1="270.12" y1="387.00" x2="270.12" y2="389.50" stroke="#222" stroke-width="1"/>
<text x="270.93" y="400.13" font-size="7.3" text-anchor="middle" fill="#1c1c1c" textLength="4.14" lengthAdjust="spacingAndGlyphs" >S</text>
<line x1="295.00" y1="371.50" x2="295.00" y2="373.75" stroke="#1d4f8c" stroke-width="0.9"/>
<line x1="293.20" y1="371.50" x2="296.80" y2="371.50" stroke="#1d4f8c" stroke-width="0.9"/>
<rect x="292.00" y="373.75" width="6.00" height="13.05" fill="#1d4f8c"/>
<line x1="306.50" y1="367.00" x2="306.50" y2="375.55" stroke="#cf1230" stroke-width="0.9"/>
<line x1="304.70" y1="367.00" x2="308.30" y2="367.00" stroke="#cf1230" stroke-width="0.9"/>
<rect x="303.50" y="375.55" width="6.00" height="11.25" fill="#cf1230"/>
<line x1="300.75" y1="387.00" x2="300.75" y2="389.50" stroke="#222" stroke-width="1"/>
<text x="301.55" y="400.13" font-size="7.3" text-anchor="middle" fill="#1c1c1c" textLength="8.68" lengthAdjust="spacingAndGlyphs" >G2</text>
<text x="258.75" y="288.61" font-size="10.3" text-anchor="start" fill="#1a1a1a" textLength="22.50" lengthAdjust="spacingAndGlyphs" >Z138</text>
<rect x="318.00" y="332.00" width="6.00" height="6.00" fill="#1d4f8c"/>
<rect x="318.00" y="343.00" width="6.00" height="6.00" fill="#cf1230"/>
<text x="327.70" y="337.82" font-size="7" text-anchor="start" fill="#1c1c1c" textLength="13.93" lengthAdjust="spacingAndGlyphs" >0 μM</text>
<text x="327.70" y="348.52" font-size="7" text-anchor="start" fill="#1c1c1c" textLength="13.93" lengthAdjust="spacingAndGlyphs" >1 μM</text>
<text x="227.00" y="323.84" font-size="7.2" text-anchor="start" fill="#1c1c1c" textLength="30.50" lengthAdjust="spacingAndGlyphs" ><tspan font-style="italic">P</tspan> = .0075</text>
<line x1="230.50" y1="326.25" x2="248.75" y2="326.25" stroke="#222" stroke-width="1"/>
<text x="258.75" y="311.84" font-size="7.2" text-anchor="start" fill="#1c1c1c" textLength="31.25" lengthAdjust="spacingAndGlyphs" ><tspan font-style="italic">P</tspan> = .0348</text>
<line x1="261.25" y1="314.50" x2="278.75" y2="314.50" stroke="#222" stroke-width="1"/>
<text transform="translate(200.02,341.20) rotate(-90)" x="0" y="0" font-size="8.4" text-anchor="middle" fill="#222" font-weight="normal" style="stroke-width:0.3px;stroke:#222" textLength="59.60" lengthAdjust="spacingAndGlyphs">Cell cycle phase (%)</text>
<line x1="392.50" y1="294.80" x2="392.50" y2="387.00" stroke="#161616" stroke-width="1.05"/>
<line x1="392.00" y1="386.50" x2="480.25" y2="386.50" stroke="#161616" stroke-width="1.05"/>
<line x1="389.40" y1="386.80" x2="392.00" y2="386.80" stroke="#222" stroke-width="1"/>
<text x="385.40" y="389.32" font-size="7" text-anchor="end" fill="#1c1c1c" textLength="3.70" lengthAdjust="spacingAndGlyphs" >0</text>
<line x1="389.40" y1="368.80" x2="392.00" y2="368.80" stroke="#222" stroke-width="1"/>
<text x="385.40" y="371.32" font-size="7" text-anchor="end" fill="#1c1c1c" textLength="7.40" lengthAdjust="spacingAndGlyphs" >20</text>
<line x1="389.40" y1="350.80" x2="392.00" y2="350.80" stroke="#222" stroke-width="1"/>
<text x="385.40" y="353.32" font-size="7" text-anchor="end" fill="#1c1c1c" textLength="7.40" lengthAdjust="spacingAndGlyphs" >40</text>
<line x1="389.40" y1="332.80" x2="392.00" y2="332.80" stroke="#222" stroke-width="1"/>
<text x="385.40" y="335.32" font-size="7" text-anchor="end" fill="#1c1c1c" textLength="7.40" lengthAdjust="spacingAndGlyphs" >60</text>
<line x1="389.40" y1="314.80" x2="392.00" y2="314.80" stroke="#222" stroke-width="1"/>
<text x="385.40" y="317.32" font-size="7" text-anchor="end" fill="#1c1c1c" textLength="7.40" lengthAdjust="spacingAndGlyphs" >80</text>
<line x1="389.40" y1="296.80" x2="392.00" y2="296.80" stroke="#222" stroke-width="1"/>
<text x="385.40" y="299.32" font-size="7" text-anchor="end" fill="#1c1c1c" textLength="11.09" lengthAdjust="spacingAndGlyphs" >100</text>
<line x1="400.00" y1="356.20" x2="400.00" y2="362.50" stroke="#1d4f8c" stroke-width="0.9"/>
<line x1="398.20" y1="356.20" x2="401.80" y2="356.20" stroke="#1d4f8c" stroke-width="0.9"/>
<rect x="397.00" y="362.50" width="6.00" height="24.30" fill="#1d4f8c"/>
<line x1="411.50" y1="314.80" x2="411.50" y2="319.75" stroke="#cf1230" stroke-width="0.9"/>
<line x1="409.70" y1="314.80" x2="413.30" y2="314.80" stroke="#cf1230" stroke-width="0.9"/>
<rect x="408.50" y="319.75" width="6.00" height="67.05" fill="#cf1230"/>
<line x1="405.75" y1="387.00" x2="405.75" y2="389.50" stroke="#222" stroke-width="1"/>
<text x="406.55" y="400.13" font-size="7.3" text-anchor="middle" fill="#1c1c1c" textLength="8.68" lengthAdjust="spacingAndGlyphs" >G1</text>
<line x1="431.00" y1="330.10" x2="431.00" y2="342.70" stroke="#1d4f8c" stroke-width="0.9"/>
<line x1="429.20" y1="330.10" x2="432.80" y2="330.10" stroke="#1d4f8c" stroke-width="0.9"/>
<rect x="428.00" y="342.70" width="6.00" height="44.10" fill="#1d4f8c"/>
<line x1="442.25" y1="366.10" x2="442.25" y2="367.90" stroke="#cf1230" stroke-width="0.9"/>
<line x1="440.45" y1="366.10" x2="444.05" y2="366.10" stroke="#cf1230" stroke-width="0.9"/>
<rect x="439.25" y="367.90" width="6.00" height="18.90" fill="#cf1230"/>
<line x1="436.62" y1="387.00" x2="436.62" y2="389.50" stroke="#222" stroke-width="1"/>
<text x="437.43" y="400.13" font-size="7.3" text-anchor="middle" fill="#1c1c1c" textLength="4.14" lengthAdjust="spacingAndGlyphs" >S</text>
<line x1="461.50" y1="361.60" x2="461.50" y2="367.90" stroke="#1d4f8c" stroke-width="0.9"/>
<line x1="459.70" y1="361.60" x2="463.30" y2="361.60" stroke="#1d4f8c" stroke-width="0.9"/>
<rect x="458.50" y="367.90" width="6.00" height="18.90" fill="#1d4f8c"/>
<line x1="473.00" y1="381.40" x2="473.00" y2="385.00" stroke="#cf1230" stroke-width="0.9"/>
<line x1="471.20" y1="381.40" x2="474.80" y2="381.40" stroke="#cf1230" stroke-width="0.9"/>
<rect x="470.00" y="385.00" width="6.00" height="1.80" fill="#cf1230"/>
<line x1="467.25" y1="387.00" x2="467.25" y2="389.50" stroke="#222" stroke-width="1"/>
<text x="468.05" y="400.13" font-size="7.3" text-anchor="middle" fill="#1c1c1c" textLength="8.68" lengthAdjust="spacingAndGlyphs" >G2</text>
<text x="413.75" y="288.61" font-size="10.3" text-anchor="start" fill="#1a1a1a" textLength="46.25" lengthAdjust="spacingAndGlyphs" >Mino-Ven-R</text>
<rect x="484.50" y="332.00" width="6.00" height="6.00" fill="#1d4f8c"/>
<rect x="484.50" y="343.00" width="6.00" height="6.00" fill="#cf1230"/>
<text x="494.20" y="337.82" font-size="7" text-anchor="start" fill="#1c1c1c" textLength="13.93" lengthAdjust="spacingAndGlyphs" >0 μM</text>
<text x="494.20" y="348.52" font-size="7" text-anchor="start" fill="#1c1c1c" textLength="13.93" lengthAdjust="spacingAndGlyphs" >5 μM</text>
<text x="393.75" y="306.34" font-size="7.2" text-anchor="start" fill="#1c1c1c" textLength="31.75" lengthAdjust="spacingAndGlyphs" ><tspan font-style="italic">P</tspan> = .0404</text>
<line x1="397.00" y1="309.25" x2="413.75" y2="309.25" stroke="#222" stroke-width="1"/>
<text x="420.00" y="320.84" font-size="7.2" text-anchor="start" fill="#1c1c1c" textLength="30.50" lengthAdjust="spacingAndGlyphs" ><tspan font-style="italic">P</tspan> = .1187</text>
<line x1="426.75" y1="323.75" x2="443.75" y2="323.75" stroke="#222" stroke-width="1"/>
<text transform="translate(367.52,341.20) rotate(-90)" x="0" y="0" font-size="8.4" text-anchor="middle" fill="#222" font-weight="normal" style="stroke-width:0.3px;stroke:#222" textLength="59.60" lengthAdjust="spacingAndGlyphs">Cell cycle phase (%)</text>
<text x="7.71" y="429.60" font-size="12.5" font-weight="bold" fill="#000" style="stroke:#000;stroke-width:0.4px">E</text>
<text x="94.50" y="445.09" font-size="7.2" text-anchor="middle" fill="#1c1c1c" textLength="20.03" lengthAdjust="spacingAndGlyphs" >JeKo-1</text>
<line x1="74.50" y1="449.50" x2="115.00" y2="449.50" stroke="#333" stroke-width="1.1"/>
<text x="138.75" y="445.09" font-size="7.2" text-anchor="middle" fill="#1c1c1c" textLength="15.15" lengthAdjust="spacingAndGlyphs" >Z138</text>
<line x1="118.75" y1="449.50" x2="157.50" y2="449.50" stroke="#333" stroke-width="1.1"/>
<text x="184.50" y="445.09" font-size="7.2" text-anchor="middle" fill="#1c1c1c" textLength="33.13" lengthAdjust="spacingAndGlyphs" >Mino-Ven-R</text>
<line x1="164.25" y1="449.50" x2="205.50" y2="449.50" stroke="#333" stroke-width="1.1"/>
<text x="16.20" y="459.74" font-size="7.6" text-anchor="start" fill="#1c1c1c" textLength="53.00" lengthAdjust="spacingAndGlyphs" >Abemaciclib (μM)</text>
<text x="82.50" y="459.09" font-size="7.2" text-anchor="middle" fill="#1c1c1c" textLength="3.80" lengthAdjust="spacingAndGlyphs" >–</text>
<text x="105.00" y="459.09" font-size="7.2" text-anchor="middle" fill="#1c1c1c" textLength="9.51" lengthAdjust="spacingAndGlyphs" >0.5</text>
<text x="127.00" y="459.09" font-size="7.2" text-anchor="middle" fill="#1c1c1c" textLength="3.80" lengthAdjust="spacingAndGlyphs" >–</text>
<text x="148.00" y="459.09" font-size="7.2" text-anchor="middle" fill="#1c1c1c" textLength="3.80" lengthAdjust="spacingAndGlyphs" >1</text>
<text x="172.50" y="459.09" font-size="7.2" text-anchor="middle" fill="#1c1c1c" textLength="3.80" lengthAdjust="spacingAndGlyphs" >–</text>
<text x="191.25" y="459.09" font-size="7.2" text-anchor="middle" fill="#1c1c1c" textLength="3.80" lengthAdjust="spacingAndGlyphs" >5</text>
<text x="69.40" y="473.04" font-size="7.6" text-anchor="end" fill="#1c1c1c" textLength="8.30" lengthAdjust="spacingAndGlyphs" >Rb</text>
<rect x="73.50" y="463.50" width="41.00" height="13.00" fill="#e3e3e3" stroke="#2e2e2e" stroke-width="1.05"/>
<rect x="74.60" y="464.60" width="38.80" height="10.80" fill="none" stroke="#eeeeee" stroke-width="0.7"/>
<rect x="117.50" y="463.50" width="41.00" height="13.00" fill="#e3e3e3" stroke="#2e2e2e" stroke-width="1.05"/>
<rect x="118.60" y="464.60" width="38.80" height="10.80" fill="none" stroke="#eeeeee" stroke-width="0.7"/>
<rect x="161.50" y="463.50" width="41.00" height="13.00" fill="#e3e3e3" stroke="#2e2e2e" stroke-width="1.05"/>
<rect x="162.60" y="464.60" width="38.80" height="10.80" fill="none" stroke="#eeeeee" stroke-width="0.7"/>
<text x="69.40" y="489.54" font-size="7.6" text-anchor="end" fill="#1c1c1c" textLength="14.10" lengthAdjust="spacingAndGlyphs" >p-Rb</text>
<rect x="73.50" y="480.50" width="41.00" height="14.00" fill="#e3e3e3" stroke="#2e2e2e" stroke-width="1.05"/>
<rect x="74.60" y="481.60" width="38.80" height="11.80" fill="none" stroke="#eeeeee" stroke-width="0.7"/>
<rect x="117.50" y="480.50" width="41.00" height="14.00" fill="#e3e3e3" stroke="#2e2e2e" stroke-width="1.05"/>
<rect x="118.60" y="481.60" width="38.80" height="11.80" fill="none" stroke="#eeeeee" stroke-width="0.7"/>
<rect x="161.50" y="480.50" width="41.00" height="14.00" fill="#e3e3e3" stroke="#2e2e2e" stroke-width="1.05"/>
<rect x="162.60" y="481.60" width="38.80" height="11.80" fill="none" stroke="#eeeeee" stroke-width="0.7"/>
<text x="69.40" y="507.44" font-size="7.6" text-anchor="end" fill="#1c1c1c" textLength="19.10" lengthAdjust="spacingAndGlyphs" >CDK4</text>
<rect x="73.50" y="497.50" width="41.00" height="14.00" fill="#e3e3e3" stroke="#2e2e2e" stroke-width="1.05"/>
<rect x="74.60" y="498.60" width="38.80" height="11.80" fill="none" stroke="#eeeeee" stroke-width="0.7"/>
<rect x="117.50" y="497.50" width="41.00" height="14.00" fill="#e3e3e3" stroke="#2e2e2e" stroke-width="1.05"/>
<rect x="118.60" y="498.60" width="38.80" height="11.80" fill="none" stroke="#eeeeee" stroke-width="0.7"/>
<rect x="161.50" y="497.50" width="41.00" height="14.00" fill="#e3e3e3" stroke="#2e2e2e" stroke-width="1.05"/>
<rect x="162.60" y="498.60" width="38.80" height="11.80" fill="none" stroke="#eeeeee" stroke-width="0.7"/>
<text x="69.40" y="523.84" font-size="7.6" text-anchor="end" fill="#1c1c1c" textLength="20.20" lengthAdjust="spacingAndGlyphs" >β-actin</text>
<rect x="73.50" y="514.50" width="41.00" height="14.00" fill="#e3e3e3" stroke="#2e2e2e" stroke-width="1.05"/>
<rect x="74.60" y="515.60" width="38.80" height="11.80" fill="none" stroke="#eeeeee" stroke-width="0.7"/>
<rect x="117.50" y="514.50" width="41.00" height="14.00" fill="#e3e3e3" stroke="#2e2e2e" stroke-width="1.05"/>
<rect x="118.60" y="515.60" width="38.80" height="11.80" fill="none" stroke="#eeeeee" stroke-width="0.7"/>
<rect x="161.50" y="514.50" width="41.00" height="14.00" fill="#e3e3e3" stroke="#2e2e2e" stroke-width="1.05"/>
<rect x="162.60" y="515.60" width="38.80" height="11.80" fill="none" stroke="#eeeeee" stroke-width="0.7"/>
<rect x="75.03" y="468.13" width="16.54" height="4.14" rx="2.50" ry="2.07" fill="rgb(0,0,0)" filter="url(#b7)" opacity="0.9"/>
<rect x="75.77" y="468.87" width="15.06" height="2.66" rx="1.65" ry="1.33" fill="rgb(0,0,0)" filter="url(#b5)"/>
<rect x="96.47" y="468.67" width="16.47" height="3.07" rx="1.85" ry="1.53" fill="rgb(40,40,40)" filter="url(#b6)" opacity="0.9"/>
<rect x="96.70" y="468.90" width="16.00" height="2.60" rx="1.61" ry="1.30" fill="rgb(40,40,40)" filter="url(#b5)" opacity="0.85"/>
<rect x="119.22" y="467.92" width="16.57" height="4.57" rx="2.76" ry="2.28" fill="rgb(0,0,0)" filter="url(#b7)" opacity="0.9"/>
<rect x="120.00" y="468.70" width="15.01" height="3.01" rx="1.86" ry="1.50" fill="rgb(0,0,0)" filter="url(#b5)"/>
<rect x="141.32" y="468.67" width="15.17" height="3.07" rx="1.85" ry="1.53" fill="rgb(40,40,40)" filter="url(#b6)" opacity="0.9"/>
<rect x="141.55" y="468.90" width="14.70" height="2.60" rx="1.61" ry="1.30" fill="rgb(40,40,40)" filter="url(#b5)" opacity="0.85"/>
<rect x="163.22" y="467.92" width="16.57" height="4.57" rx="2.76" ry="2.28" fill="rgb(0,0,0)" filter="url(#b7)" opacity="0.9"/>
<rect x="164.00" y="468.70" width="15.01" height="3.01" rx="1.86" ry="1.50" fill="rgb(0,0,0)" filter="url(#b5)"/>
<rect x="184.95" y="468.45" width="15.90" height="3.50" rx="2.11" ry="1.75" fill="rgb(11,11,11)" filter="url(#b6)" opacity="0.9"/>
<rect x="185.20" y="468.70" width="15.40" height="3.00" rx="1.86" ry="1.50" fill="rgb(11,11,11)" filter="url(#b5)" opacity="0.85"/>
<rect x="74.99" y="484.59" width="16.61" height="5.21" rx="3.16" ry="2.61" fill="rgb(0,0,0)" filter="url(#b8)" opacity="0.9"/>
<rect x="75.83" y="485.43" width="14.93" height="3.53" rx="2.19" ry="1.77" fill="rgb(0,0,0)" filter="url(#b5)"/>
<rect x="96.48" y="485.88" width="16.44" height="2.64" rx="1.58" ry="1.32" fill="rgb(148,148,148)" filter="url(#b5)" opacity="0.9"/>
<rect x="96.70" y="486.10" width="16.00" height="2.20" rx="1.36" ry="1.10" fill="rgb(148,148,148)" filter="url(#b5)" opacity="0.85"/>
<rect x="119.22" y="485.02" width="16.55" height="4.35" rx="2.63" ry="2.18" fill="rgb(0,0,0)" filter="url(#b7)" opacity="0.9"/>
<rect x="119.98" y="485.78" width="15.03" height="2.83" rx="1.76" ry="1.42" fill="rgb(0,0,0)" filter="url(#b5)"/>
<rect x="141.43" y="485.83" width="14.95" height="2.75" rx="1.65" ry="1.37" fill="rgb(88,88,88)" filter="url(#b6)" opacity="0.9"/>
<rect x="141.65" y="486.05" width="14.50" height="2.30" rx="1.43" ry="1.15" fill="rgb(88,88,88)" filter="url(#b5)" opacity="0.85"/>
<rect x="163.18" y="484.38" width="16.64" height="5.64" rx="3.42" ry="2.82" fill="rgb(0,0,0)" filter="url(#b8)" opacity="0.9"/>
<rect x="164.06" y="485.26" width="14.88" height="3.88" rx="2.41" ry="1.94" fill="rgb(0,0,0)" filter="url(#b5)"/>
<rect x="184.95" y="485.45" width="15.90" height="3.50" rx="2.11" ry="1.75" fill="rgb(28,28,28)" filter="url(#b6)" opacity="0.9"/>
<rect x="185.20" y="485.70" width="15.40" height="3.00" rx="1.86" ry="1.50" fill="rgb(28,28,28)" filter="url(#b5)" opacity="0.85"/>
<rect x="75.07" y="502.77" width="16.47" height="3.07" rx="1.85" ry="1.53" fill="rgb(4,4,4)" filter="url(#b6)" opacity="0.9"/>
<rect x="75.30" y="503.00" width="16.00" height="2.60" rx="1.61" ry="1.30" fill="rgb(4,4,4)" filter="url(#b5)" opacity="0.85"/>
<rect x="95.41" y="501.91" width="18.58" height="4.78" rx="2.90" ry="2.39" fill="rgb(0,0,0)" filter="url(#b7)" opacity="0.9"/>
<rect x="96.21" y="502.71" width="16.98" height="3.18" rx="1.97" ry="1.59" fill="rgb(0,0,0)" filter="url(#b5)"/>
<rect x="119.53" y="502.98" width="15.94" height="2.64" rx="1.58" ry="1.32" fill="rgb(40,40,40)" filter="url(#b5)" opacity="0.9"/>
<rect x="119.75" y="503.20" width="15.50" height="2.20" rx="1.36" ry="1.10" fill="rgb(40,40,40)" filter="url(#b5)" opacity="0.85"/>
<rect x="140.61" y="501.91" width="16.58" height="4.78" rx="2.90" ry="2.39" fill="rgb(0,0,0)" filter="url(#b7)" opacity="0.9"/>
<rect x="141.41" y="502.71" width="14.98" height="3.18" rx="1.97" ry="1.59" fill="rgb(0,0,0)" filter="url(#b5)"/>
<rect x="164.08" y="502.98" width="14.84" height="2.64" rx="1.58" ry="1.32" fill="rgb(64,64,64)" filter="url(#b5)" opacity="0.9"/>
<rect x="164.30" y="503.20" width="14.40" height="2.20" rx="1.36" ry="1.10" fill="rgb(64,64,64)" filter="url(#b5)" opacity="0.85"/>
<rect x="184.32" y="502.12" width="17.15" height="4.35" rx="2.63" ry="2.18" fill="rgb(0,0,0)" filter="url(#b7)" opacity="0.9"/>
<rect x="185.08" y="502.88" width="15.63" height="2.83" rx="1.76" ry="1.42" fill="rgb(0,0,0)" filter="url(#b5)"/>
<rect x="75.02" y="519.92" width="16.55" height="4.35" rx="2.63" ry="2.18" fill="rgb(0,0,0)" filter="url(#b7)" opacity="0.9"/>
<rect x="75.78" y="520.68" width="15.03" height="2.83" rx="1.76" ry="1.42" fill="rgb(0,0,0)" filter="url(#b5)"/>
<rect x="96.11" y="519.71" width="17.18" height="4.78" rx="2.90" ry="2.39" fill="rgb(0,0,0)" filter="url(#b7)" opacity="0.9"/>
<rect x="96.91" y="520.51" width="15.58" height="3.18" rx="1.97" ry="1.59" fill="rgb(0,0,0)" filter="url(#b5)"/>
<rect x="119.22" y="519.82" width="16.57" height="4.57" rx="2.76" ry="2.28" fill="rgb(0,0,0)" filter="url(#b7)" opacity="0.9"/>
<rect x="120.00" y="520.60" width="15.01" height="3.01" rx="1.86" ry="1.50" fill="rgb(0,0,0)" filter="url(#b5)"/>
<rect x="140.61" y="519.71" width="16.58" height="4.78" rx="2.90" ry="2.39" fill="rgb(0,0,0)" filter="url(#b7)" opacity="0.9"/>
<rect x="141.41" y="520.51" width="14.98" height="3.18" rx="1.97" ry="1.59" fill="rgb(0,0,0)" filter="url(#b5)"/>
<rect x="163.19" y="519.49" width="16.61" height="5.21" rx="3.16" ry="2.61" fill="rgb(0,0,0)" filter="url(#b8)" opacity="0.9"/>
<rect x="164.03" y="520.33" width="14.93" height="3.53" rx="2.19" ry="1.77" fill="rgb(0,0,0)" filter="url(#b5)"/>
<rect x="184.31" y="519.71" width="17.18" height="4.78" rx="2.90" ry="2.39" fill="rgb(0,0,0)" filter="url(#b7)" opacity="0.9"/>
<rect x="185.11" y="520.51" width="15.58" height="3.18" rx="1.97" ry="1.59" fill="rgb(0,0,0)" filter="url(#b5)"/>
<text x="222.21" y="429.40" font-size="12.5" font-weight="bold" fill="#000" style="stroke:#000;stroke-width:0.4px">F</text>
<line x1="262.50" y1="435.60" x2="262.50" y2="529.00" stroke="#161616" stroke-width="1.05"/>
<line x1="262.00" y1="528.50" x2="322.50" y2="528.50" stroke="#161616" stroke-width="1.05"/>
<line x1="259.90" y1="528.00" x2="262.50" y2="528.00" stroke="#222" stroke-width="1"/>
<text x="255.90" y="530.52" font-size="7" text-anchor="end" fill="#1c1c1c" textLength="3.70" lengthAdjust="spacingAndGlyphs" >0</text>
<line x1="259.90" y1="510.15" x2="262.50" y2="510.15" stroke="#222" stroke-width="1"/>
<text x="255.90" y="512.67" font-size="7" text-anchor="end" fill="#1c1c1c" textLength="7.40" lengthAdjust="spacingAndGlyphs" >20</text>
<line x1="259.90" y1="492.30" x2="262.50" y2="492.30" stroke="#222" stroke-width="1"/>
<text x="255.90" y="494.82" font-size="7" text-anchor="end" fill="#1c1c1c" textLength="7.40" lengthAdjust="spacingAndGlyphs" >40</text>
<line x1="259.90" y1="474.45" x2="262.50" y2="474.45" stroke="#222" stroke-width="1"/>
<text x="255.90" y="476.97" font-size="7" text-anchor="end" fill="#1c1c1c" textLength="7.40" lengthAdjust="spacingAndGlyphs" >60</text>
<line x1="259.90" y1="456.60" x2="262.50" y2="456.60" stroke="#222" stroke-width="1"/>
<text x="255.90" y="459.12" font-size="7" text-anchor="end" fill="#1c1c1c" textLength="7.40" lengthAdjust="spacingAndGlyphs" >80</text>
<line x1="259.90" y1="438.75" x2="262.50" y2="438.75" stroke="#222" stroke-width="1"/>
<text x="255.90" y="441.27" font-size="7" text-anchor="end" fill="#1c1c1c" textLength="11.09" lengthAdjust="spacingAndGlyphs" >100</text>
<line x1="275.62" y1="521.75" x2="275.62" y2="524.43" stroke="#1d4f8c" stroke-width="0.9"/>
<line x1="272.62" y1="521.75" x2="278.62" y2="521.75" stroke="#1d4f8c" stroke-width="0.9"/>
<rect x="270.50" y="524.43" width="10.25" height="3.57" fill="#1d4f8c"/>
<line x1="275.62" y1="528.00" x2="275.62" y2="530.60" stroke="#222" stroke-width="1"/>
<text x="275.75" y="542.09" font-size="7.2" text-anchor="middle" fill="#1c1c1c" textLength="3.80" lengthAdjust="spacingAndGlyphs" >0</text>
<line x1="293.88" y1="516.40" x2="293.88" y2="518.18" stroke="#cf1230" stroke-width="0.9"/>
<line x1="290.88" y1="516.40" x2="296.88" y2="516.40" stroke="#cf1230" stroke-width="0.9"/>
<rect x="288.25" y="518.18" width="11.25" height="9.82" fill="#cf1230"/>
<line x1="293.88" y1="528.00" x2="293.88" y2="530.60" stroke="#222" stroke-width="1"/>
<text x="293.75" y="542.09" font-size="7.2" text-anchor="middle" fill="#1c1c1c" textLength="9.51" lengthAdjust="spacingAndGlyphs" >0.5</text>
<line x1="313.38" y1="453.03" x2="313.38" y2="464.63" stroke="#3aa83c" stroke-width="0.9"/>
<line x1="310.38" y1="453.03" x2="316.38" y2="453.03" stroke="#3aa83c" stroke-width="0.9"/>
<rect x="308.00" y="464.63" width="10.75" height="63.37" fill="#3aa83c"/>
<line x1="313.38" y1="528.00" x2="313.38" y2="530.60" stroke="#222" stroke-width="1"/>
<text x="313.40" y="542.09" font-size="7.2" text-anchor="middle" fill="#1c1c1c" textLength="3.80" lengthAdjust="spacingAndGlyphs" >2</text>
<text x="273.75" y="429.96" font-size="10.3" text-anchor="start" fill="#1a1a1a" textLength="27.50" lengthAdjust="spacingAndGlyphs" >JeKo-1</text>
<text x="271.25" y="507.59" font-size="7.2" text-anchor="start" fill="#1c1c1c" textLength="31.25" lengthAdjust="spacingAndGlyphs" ><tspan font-style="italic">P</tspan> = .0102</text>
<line x1="273.75" y1="511.25" x2="299.50" y2="511.25" stroke="#222" stroke-width="1"/>
<text x="279.25" y="445.84" font-size="7.2" text-anchor="start" fill="#1c1c1c" textLength="31.25" lengthAdjust="spacingAndGlyphs" ><tspan font-style="italic">P</tspan> = .0007</text>
<line x1="273.00" y1="448.75" x2="316.25" y2="448.75" stroke="#222" stroke-width="1"/>
<text x="267.50" y="555.60" font-size="8.6" text-anchor="start" fill="#222" textLength="53.00" lengthAdjust="spacingAndGlyphs" style="stroke-width:0.3px;stroke:#222">Abemaciclib (μM)</text>
<text transform="translate(239.27,482.50) rotate(-90)" x="0" y="0" font-size="8.4" text-anchor="middle" fill="#222" font-weight="normal" style="stroke-width:0.3px;stroke:#222" textLength="56.00" lengthAdjust="spacingAndGlyphs">Apoptotic cells (%)</text>
<line x1="355.50" y1="435.60" x2="355.50" y2="529.00" stroke="#161616" stroke-width="1.05"/>
<line x1="355.00" y1="528.50" x2="415.50" y2="528.50" stroke="#161616" stroke-width="1.05"/>
<line x1="352.40" y1="528.00" x2="355.00" y2="528.00" stroke="#222" stroke-width="1"/>
<text x="348.40" y="530.52" font-size="7" text-anchor="end" fill="#1c1c1c" textLength="3.70" lengthAdjust="spacingAndGlyphs" >0</text>
<line x1="352.40" y1="510.15" x2="355.00" y2="510.15" stroke="#222" stroke-width="1"/>
<text x="348.40" y="512.67" font-size="7" text-anchor="end" fill="#1c1c1c" textLength="7.40" lengthAdjust="spacingAndGlyphs" >20</text>
<line x1="352.40" y1="492.30" x2="355.00" y2="492.30" stroke="#222" stroke-width="1"/>
<text x="348.40" y="494.82" font-size="7" text-anchor="end" fill="#1c1c1c" textLength="7.40" lengthAdjust="spacingAndGlyphs" >40</text>
<line x1="352.40" y1="474.45" x2="355.00" y2="474.45" stroke="#222" stroke-width="1"/>
<text x="348.40" y="476.97" font-size="7" text-anchor="end" fill="#1c1c1c" textLength="7.40" lengthAdjust="spacingAndGlyphs" >60</text>
<line x1="352.40" y1="456.60" x2="355.00" y2="456.60" stroke="#222" stroke-width="1"/>
<text x="348.40" y="459.12" font-size="7" text-anchor="end" fill="#1c1c1c" textLength="7.40" lengthAdjust="spacingAndGlyphs" >80</text>
<line x1="352.40" y1="438.75" x2="355.00" y2="438.75" stroke="#222" stroke-width="1"/>
<text x="348.40" y="441.27" font-size="7" text-anchor="end" fill="#1c1c1c" textLength="11.09" lengthAdjust="spacingAndGlyphs" >100</text>
<line x1="368.12" y1="510.60" x2="368.12" y2="516.40" stroke="#1d4f8c" stroke-width="0.9"/>
<line x1="365.12" y1="510.60" x2="371.12" y2="510.60" stroke="#1d4f8c" stroke-width="0.9"/>
<rect x="362.50" y="516.40" width="11.25" height="11.60" fill="#1d4f8c"/>
<line x1="368.12" y1="528.00" x2="368.12" y2="530.60" stroke="#222" stroke-width="1"/>
<text x="368.00" y="542.09" font-size="7.2" text-anchor="middle" fill="#1c1c1c" textLength="3.80" lengthAdjust="spacingAndGlyphs" >0</text>
<line x1="387.50" y1="494.44" x2="387.50" y2="499.89" stroke="#cf1230" stroke-width="0.9"/>
<line x1="384.50" y1="494.44" x2="390.50" y2="494.44" stroke="#cf1230" stroke-width="0.9"/>
<rect x="382.00" y="499.89" width="11.00" height="28.11" fill="#cf1230"/>
<line x1="387.50" y1="528.00" x2="387.50" y2="530.60" stroke="#222" stroke-width="1"/>
<text x="384.50" y="542.09" font-size="7.2" text-anchor="middle" fill="#1c1c1c" textLength="9.51" lengthAdjust="spacingAndGlyphs" >0.5</text>
<line x1="406.62" y1="482.13" x2="406.62" y2="492.30" stroke="#3aa83c" stroke-width="0.9"/>
<line x1="403.62" y1="482.13" x2="409.62" y2="482.13" stroke="#3aa83c" stroke-width="0.9"/>
<rect x="401.25" y="492.30" width="10.75" height="35.70" fill="#3aa83c"/>
<line x1="406.62" y1="528.00" x2="406.62" y2="530.60" stroke="#222" stroke-width="1"/>
<text x="405.50" y="542.09" font-size="7.2" text-anchor="middle" fill="#1c1c1c" textLength="3.80" lengthAdjust="spacingAndGlyphs" >1</text>
<text x="376.25" y="429.96" font-size="10.3" text-anchor="start" fill="#1a1a1a" textLength="22.50" lengthAdjust="spacingAndGlyphs" >Z138</text>
<text x="360.50" y="485.59" font-size="7.2" text-anchor="start" fill="#1c1c1c" textLength="31.50" lengthAdjust="spacingAndGlyphs" ><tspan font-style="italic">P</tspan> = .0139</text>
<line x1="364.50" y1="489.50" x2="387.50" y2="489.50" stroke="#222" stroke-width="1"/>
<text x="372.00" y="468.84" font-size="7.2" text-anchor="start" fill="#1c1c1c" textLength="31.00" lengthAdjust="spacingAndGlyphs" ><tspan font-style="italic">P</tspan> = .0157</text>
<line x1="366.25" y1="471.75" x2="407.50" y2="471.75" stroke="#222" stroke-width="1"/>
<text x="360.50" y="555.60" font-size="8.6" text-anchor="start" fill="#222" textLength="53.25" lengthAdjust="spacingAndGlyphs" style="stroke-width:0.3px;stroke:#222">Abemaciclib (μM)</text>
<line x1="448.50" y1="435.60" x2="448.50" y2="529.00" stroke="#161616" stroke-width="1.05"/>
<line x1="448.00" y1="528.50" x2="512.00" y2="528.50" stroke="#161616" stroke-width="1.05"/>
<line x1="445.90" y1="528.00" x2="448.50" y2="528.00" stroke="#222" stroke-width="1"/>
<text x="441.90" y="530.52" font-size="7" text-anchor="end" fill="#1c1c1c" textLength="3.70" lengthAdjust="spacingAndGlyphs" >0</text>
<line x1="445.90" y1="510.15" x2="448.50" y2="510.15" stroke="#222" stroke-width="1"/>
<text x="441.90" y="512.67" font-size="7" text-anchor="end" fill="#1c1c1c" textLength="7.40" lengthAdjust="spacingAndGlyphs" >20</text>
<line x1="445.90" y1="492.30" x2="448.50" y2="492.30" stroke="#222" stroke-width="1"/>
<text x="441.90" y="494.82" font-size="7" text-anchor="end" fill="#1c1c1c" textLength="7.40" lengthAdjust="spacingAndGlyphs" >40</text>
<line x1="445.90" y1="474.45" x2="448.50" y2="474.45" stroke="#222" stroke-width="1"/>
<text x="441.90" y="476.97" font-size="7" text-anchor="end" fill="#1c1c1c" textLength="7.40" lengthAdjust="spacingAndGlyphs" >60</text>
<line x1="445.90" y1="456.60" x2="448.50" y2="456.60" stroke="#222" stroke-width="1"/>
<text x="441.90" y="459.12" font-size="7" text-anchor="end" fill="#1c1c1c" textLength="7.40" lengthAdjust="spacingAndGlyphs" >80</text>
<line x1="445.90" y1="438.75" x2="448.50" y2="438.75" stroke="#222" stroke-width="1"/>
<text x="441.90" y="441.27" font-size="7" text-anchor="end" fill="#1c1c1c" textLength="11.09" lengthAdjust="spacingAndGlyphs" >100</text>
<line x1="461.50" y1="518.18" x2="461.50" y2="519.97" stroke="#1d4f8c" stroke-width="0.9"/>
<line x1="458.50" y1="518.18" x2="464.50" y2="518.18" stroke="#1d4f8c" stroke-width="0.9"/>
<rect x="456.10" y="519.97" width="10.80" height="8.03" fill="#1d4f8c"/>
<line x1="461.50" y1="528.00" x2="461.50" y2="530.60" stroke="#222" stroke-width="1"/>
<text x="461.20" y="542.09" font-size="7.2" text-anchor="middle" fill="#1c1c1c" textLength="3.80" lengthAdjust="spacingAndGlyphs" >0</text>
<line x1="480.45" y1="486.05" x2="480.45" y2="500.33" stroke="#cf1230" stroke-width="0.9"/>
<line x1="477.45" y1="486.05" x2="483.45" y2="486.05" stroke="#cf1230" stroke-width="0.9"/>
<rect x="475.00" y="500.33" width="10.90" height="27.67" fill="#cf1230"/>
<line x1="480.45" y1="528.00" x2="480.45" y2="530.60" stroke="#222" stroke-width="1"/>
<text x="480.30" y="542.09" font-size="7.2" text-anchor="middle" fill="#1c1c1c" textLength="3.80" lengthAdjust="spacingAndGlyphs" >5</text>
<line x1="499.60" y1="445.89" x2="499.60" y2="452.14" stroke="#3aa83c" stroke-width="0.9"/>
<line x1="496.60" y1="445.89" x2="502.60" y2="445.89" stroke="#3aa83c" stroke-width="0.9"/>
<rect x="494.20" y="452.14" width="10.80" height="75.86" fill="#3aa83c"/>
<line x1="499.60" y1="528.00" x2="499.60" y2="530.60" stroke="#222" stroke-width="1"/>
<text x="499.20" y="542.09" font-size="7.2" text-anchor="middle" fill="#1c1c1c" textLength="7.61" lengthAdjust="spacingAndGlyphs" >10</text>
<text x="457.20" y="428.21" font-size="10.3" text-anchor="start" fill="#1a1a1a" textLength="46.70" lengthAdjust="spacingAndGlyphs" >Mino-Ven-R</text>
<text x="454.20" y="480.19" font-size="7.2" text-anchor="start" fill="#1c1c1c" textLength="30.80" lengthAdjust="spacingAndGlyphs" ><tspan font-style="italic">P</tspan> = .1775</text>
<line x1="457.70" y1="483.40" x2="480.80" y2="483.40" stroke="#222" stroke-width="1"/>
<text x="464.60" y="440.29" font-size="7.2" text-anchor="start" fill="#1c1c1c" textLength="30.00" lengthAdjust="spacingAndGlyphs" ><tspan font-style="italic">P</tspan> = .0030</text>
<line x1="460.50" y1="443.50" x2="499.20" y2="443.50" stroke="#222" stroke-width="1"/>
<text x="453.50" y="555.60" font-size="8.6" text-anchor="start" fill="#222" textLength="53.10" lengthAdjust="spacingAndGlyphs" style="stroke-width:0.3px;stroke:#222">Abemaciclib (μM)</text>
<text x="58.24" y="584.40" font-size="12.5" font-weight="bold" fill="#000" style="stroke:#000;stroke-width:0.4px">G</text>
<line x1="108.50" y1="591.00" x2="108.50" y2="684.00" stroke="#161616" stroke-width="1.05"/>
<line x1="108.00" y1="683.50" x2="246.20" y2="683.50" stroke="#161616" stroke-width="1.05"/>
<line x1="106.00" y1="683.30" x2="108.60" y2="683.30" stroke="#222" stroke-width="1"/>
<text x="102.20" y="685.96" font-size="7.4" text-anchor="end" fill="#1c1c1c" >0</text>
<line x1="106.00" y1="660.91" x2="108.60" y2="660.91" stroke="#222" stroke-width="1"/>
<text x="102.20" y="663.57" font-size="7.4" text-anchor="end" fill="#1c1c1c" >1000</text>
<line x1="106.00" y1="638.52" x2="108.60" y2="638.52" stroke="#222" stroke-width="1"/>
<text x="102.20" y="641.18" font-size="7.4" text-anchor="end" fill="#1c1c1c" >2000</text>
<line x1="106.00" y1="616.13" x2="108.60" y2="616.13" stroke="#222" stroke-width="1"/>
<text x="102.20" y="618.79" font-size="7.4" text-anchor="end" fill="#1c1c1c" >3000</text>
<line x1="106.00" y1="593.74" x2="108.60" y2="593.74" stroke="#222" stroke-width="1"/>
<text x="102.20" y="596.40" font-size="7.4" text-anchor="end" fill="#1c1c1c" >4000</text>
<line x1="108.60" y1="683.30" x2="108.60" y2="686.00" stroke="#222" stroke-width="1"/>
<text x="108.60" y="697.26" font-size="7.4" text-anchor="middle" fill="#1c1c1c" >0</text>
<line x1="135.40" y1="683.30" x2="135.40" y2="686.00" stroke="#222" stroke-width="1"/>
<text x="135.40" y="697.26" font-size="7.4" text-anchor="middle" fill="#1c1c1c" >5</text>
<line x1="162.20" y1="683.30" x2="162.20" y2="686.00" stroke="#222" stroke-width="1"/>
<text x="162.20" y="697.26" font-size="7.4" text-anchor="middle" fill="#1c1c1c" >10</text>
<line x1="189.00" y1="683.30" x2="189.00" y2="686.00" stroke="#222" stroke-width="1"/>
<text x="189.00" y="697.26" font-size="7.4" text-anchor="middle" fill="#1c1c1c" >15</text>
<line x1="215.80" y1="683.30" x2="215.80" y2="686.00" stroke="#222" stroke-width="1"/>
<text x="215.80" y="697.26" font-size="7.4" text-anchor="middle" fill="#1c1c1c" >20</text>
<line x1="242.60" y1="683.30" x2="242.60" y2="686.00" stroke="#222" stroke-width="1"/>
<text x="242.60" y="697.26" font-size="7.4" text-anchor="middle" fill="#1c1c1c" >25</text>
<text x="146.80" y="709.40" font-size="8.6" text-anchor="start" fill="#222" textLength="61.50" lengthAdjust="spacingAndGlyphs" style="stroke-width:0.3px;stroke:#222">Days post inoculation</text>
<text transform="translate(78.50,637.5) rotate(-90)" font-size="8.4" style="stroke-width:0.3px;stroke:#222" text-anchor="middle" fill="#222" textLength="61" lengthAdjust="spacingAndGlyphs">Tumor volume (mm<tspan font-size="5.5" dy="-3">3</tspan><tspan dy="3">)</tspan></text>
<polyline points="108.60,683.30 151.48,683.08 167.56,682.85 189.00,679.94 205.08,676.92 221.16,671.66 226.52,667.85" fill="none" stroke="#cf1230" stroke-width="1.3"/>
<circle cx="151.48" cy="683.08" r="1.9" fill="#cf1230"/>
<circle cx="167.56" cy="682.85" r="1.9" fill="#cf1230"/>
<circle cx="189.00" cy="679.94" r="1.9" fill="#cf1230"/>
<line x1="205.08" y1="678.71" x2="205.08" y2="675.13" stroke="#cf1230" stroke-width="0.9"/>
<line x1="203.38" y1="675.13" x2="206.78" y2="675.13" stroke="#cf1230" stroke-width="0.9"/>
<line x1="203.38" y1="678.71" x2="206.78" y2="678.71" stroke="#cf1230" stroke-width="0.9"/>
<circle cx="205.08" cy="676.92" r="1.9" fill="#cf1230"/>
<line x1="221.16" y1="676.14" x2="221.16" y2="667.18" stroke="#cf1230" stroke-width="0.9"/>
<line x1="219.46" y1="667.18" x2="222.86" y2="667.18" stroke="#cf1230" stroke-width="0.9"/>
<line x1="219.46" y1="676.14" x2="222.86" y2="676.14" stroke="#cf1230" stroke-width="0.9"/>
<circle cx="221.16" cy="671.66" r="1.9" fill="#cf1230"/>
<line x1="226.52" y1="675.69" x2="226.52" y2="660.01" stroke="#cf1230" stroke-width="0.9"/>
<line x1="224.82" y1="660.01" x2="228.22" y2="660.01" stroke="#cf1230" stroke-width="0.9"/>
<line x1="224.82" y1="675.69" x2="228.22" y2="675.69" stroke="#cf1230" stroke-width="0.9"/>
<circle cx="226.52" cy="667.85" r="1.9" fill="#cf1230"/>
<polyline points="108.60,683.30 151.48,682.63 167.56,681.51 189.00,674.68 205.08,662.48 221.16,641.54 226.52,631.58" fill="none" stroke="#1b4380" stroke-width="1.3"/>
<circle cx="151.48" cy="682.63" r="1.9" fill="#1b4380"/>
<circle cx="167.56" cy="681.51" r="1.9" fill="#1b4380"/>
<line x1="189.00" y1="676.25" x2="189.00" y2="673.11" stroke="#1b4380" stroke-width="0.9"/>
<line x1="187.30" y1="673.11" x2="190.70" y2="673.11" stroke="#1b4380" stroke-width="0.9"/>
<line x1="187.30" y1="676.25" x2="190.70" y2="676.25" stroke="#1b4380" stroke-width="0.9"/>
<circle cx="189.00" cy="674.68" r="1.9" fill="#1b4380"/>
<line x1="205.08" y1="665.84" x2="205.08" y2="659.12" stroke="#1b4380" stroke-width="0.9"/>
<line x1="203.38" y1="659.12" x2="206.78" y2="659.12" stroke="#1b4380" stroke-width="0.9"/>
<line x1="203.38" y1="665.84" x2="206.78" y2="665.84" stroke="#1b4380" stroke-width="0.9"/>
<circle cx="205.08" cy="662.48" r="1.9" fill="#1b4380"/>
<line x1="221.16" y1="652.96" x2="221.16" y2="630.12" stroke="#1b4380" stroke-width="0.9"/>
<line x1="219.46" y1="630.12" x2="222.86" y2="630.12" stroke="#1b4380" stroke-width="0.9"/>
<line x1="219.46" y1="652.96" x2="222.86" y2="652.96" stroke="#1b4380" stroke-width="0.9"/>
<circle cx="221.16" cy="641.54" r="1.9" fill="#1b4380"/>
<line x1="226.52" y1="645.01" x2="226.52" y2="618.15" stroke="#1b4380" stroke-width="0.9"/>
<line x1="224.82" y1="618.15" x2="228.22" y2="618.15" stroke="#1b4380" stroke-width="0.9"/>
<line x1="224.82" y1="645.01" x2="228.22" y2="645.01" stroke="#1b4380" stroke-width="0.9"/>
<circle cx="226.52" cy="631.58" r="1.9" fill="#1b4380"/>
<line x1="116.00" y1="600.80" x2="126.20" y2="600.80" stroke="#1b4380" stroke-width="1.2"/>
<circle cx="120.6" cy="600.8" r="1.8" fill="#1b4380"/>
<line x1="116.00" y1="611.50" x2="126.20" y2="611.50" stroke="#cf1230" stroke-width="1.2"/>
<circle cx="120.6" cy="611.5" r="1.8" fill="#cf1230"/>
<text x="129.20" y="603.32" font-size="7" text-anchor="start" fill="#1c1c1c" textLength="19.40" lengthAdjust="spacingAndGlyphs" >Vehicle</text>
<text x="129.20" y="614.02" font-size="7" text-anchor="start" fill="#1c1c1c" textLength="33.80" lengthAdjust="spacingAndGlyphs" >Abemaciclib</text>
<line x1="237.50" y1="631.20" x2="237.50" y2="667.00" stroke="#333" stroke-width="1"/>
<text x="241.50" y="653.19" font-size="7.2" text-anchor="start" fill="#1c1c1c" textLength="28.57" lengthAdjust="spacingAndGlyphs" ><tspan font-style="italic">P</tspan> &lt; .0001</text>
<text x="289.71" y="584.60" font-size="12.5" font-weight="bold" fill="#000" style="stroke:#000;stroke-width:0.4px">H</text>
<line x1="330.50" y1="591.50" x2="330.50" y2="684.00" stroke="#161616" stroke-width="1.05"/>
<line x1="330.00" y1="683.50" x2="397.90" y2="683.50" stroke="#161616" stroke-width="1.05"/>
<line x1="328.00" y1="683.30" x2="330.50" y2="683.30" stroke="#222" stroke-width="1"/>
<text x="323.50" y="685.82" font-size="7" text-anchor="end" fill="#1c1c1c" textLength="9.24" lengthAdjust="spacingAndGlyphs" >0.0</text>
<line x1="328.00" y1="665.48" x2="330.50" y2="665.48" stroke="#222" stroke-width="1"/>
<text x="323.50" y="668.00" font-size="7" text-anchor="end" fill="#1c1c1c" textLength="9.24" lengthAdjust="spacingAndGlyphs" >0.5</text>
<line x1="328.00" y1="647.66" x2="330.50" y2="647.66" stroke="#222" stroke-width="1"/>
<text x="323.50" y="650.18" font-size="7" text-anchor="end" fill="#1c1c1c" textLength="9.24" lengthAdjust="spacingAndGlyphs" >1.0</text>
<line x1="328.00" y1="629.84" x2="330.50" y2="629.84" stroke="#222" stroke-width="1"/>
<text x="323.50" y="632.36" font-size="7" text-anchor="end" fill="#1c1c1c" textLength="9.24" lengthAdjust="spacingAndGlyphs" >1.5</text>
<line x1="328.00" y1="612.02" x2="330.50" y2="612.02" stroke="#222" stroke-width="1"/>
<text x="323.50" y="614.54" font-size="7" text-anchor="end" fill="#1c1c1c" textLength="9.24" lengthAdjust="spacingAndGlyphs" >2.0</text>
<line x1="328.00" y1="594.20" x2="330.50" y2="594.20" stroke="#222" stroke-width="1"/>
<text x="323.50" y="596.72" font-size="7" text-anchor="end" fill="#1c1c1c" textLength="9.24" lengthAdjust="spacingAndGlyphs" >2.5</text>
<text transform="translate(307.32,637.60) rotate(-90)" x="0" y="0" font-size="8.4" text-anchor="middle" fill="#222" font-weight="normal" style="stroke-width:0.3px;stroke:#222" textLength="49.40" lengthAdjust="spacingAndGlyphs">Tumor weight (g)</text>
<line x1="350.20" y1="613.45" x2="350.20" y2="638.04" stroke="#1d4f8c" stroke-width="1.2"/>
<line x1="345.70" y1="613.45" x2="354.70" y2="613.45" stroke="#1d4f8c" stroke-width="1.2"/>
<line x1="345.70" y1="638.04" x2="354.70" y2="638.04" stroke="#1d4f8c" stroke-width="1.2"/>
<line x1="340.20" y1="625.56" x2="360.20" y2="625.56" stroke="#1d4f8c" stroke-width="1.3"/>
<circle cx="346.70" cy="613.45" r="1.5" fill="#1d4f8c"/>
<circle cx="353.70" cy="613.45" r="1.5" fill="#1d4f8c"/>
<circle cx="350.20" cy="625.56" r="1.5" fill="#1d4f8c"/>
<circle cx="346.70" cy="638.04" r="1.5" fill="#1d4f8c"/>
<circle cx="353.70" cy="638.04" r="1.5" fill="#1d4f8c"/>
<line x1="350.20" y1="683.30" x2="350.20" y2="686.00" stroke="#222" stroke-width="1"/>
<line x1="379.80" y1="653.72" x2="379.80" y2="669.76" stroke="#cf1230" stroke-width="1.2"/>
<line x1="375.30" y1="653.72" x2="384.30" y2="653.72" stroke="#cf1230" stroke-width="1.2"/>
<line x1="375.30" y1="669.76" x2="384.30" y2="669.76" stroke="#cf1230" stroke-width="1.2"/>
<line x1="369.80" y1="661.92" x2="389.80" y2="661.92" stroke="#cf1230" stroke-width="1.3"/>
<circle cx="376.80" cy="653.72" r="1.5" fill="#cf1230"/>
<circle cx="382.80" cy="653.72" r="1.5" fill="#cf1230"/>
<circle cx="379.80" cy="666.19" r="1.5" fill="#cf1230"/>
<circle cx="379.80" cy="673.68" r="1.5" fill="#cf1230"/>
<line x1="379.80" y1="683.30" x2="379.80" y2="686.00" stroke="#222" stroke-width="1"/>
<text x="348.90" y="601.59" font-size="7.2" text-anchor="start" fill="#1c1c1c" textLength="30.90" lengthAdjust="spacingAndGlyphs" ><tspan font-style="italic">P</tspan> = .0006</text>
<line x1="344.00" y1="604.40" x2="385.20" y2="604.40" stroke="#222" stroke-width="1"/>
<text transform="translate(351.00,692.90) rotate(-45)" font-size="6.7" text-anchor="end" fill="#1c1c1c" style="stroke-width:0.15px">Vehicle</text>
<text transform="translate(381.20,691.50) rotate(-45)" font-size="6.7" text-anchor="end" fill="#1c1c1c" style="stroke-width:0.15px">Abemaciclib</text>
<text transform="translate(436.10,694.80) rotate(-45)" font-size="6.7" text-anchor="end" fill="#1c1c1c" style="stroke-width:0.15px">Vehicle</text>
<text transform="translate(455.90,694.80) rotate(-45)" font-size="6.7" text-anchor="end" fill="#1c1c1c" style="stroke-width:0.15px">Abemaciclib</text>
<rect x="425.60" y="588.60" width="35.20" height="100.60" fill="#fdfdfd" stroke="#8a8a8a" stroke-width="0.9"/>
<line x1="426.00" y1="680.30" x2="460.40" y2="680.30" stroke="#444" stroke-width="0.9"/>
<line x1="426.60" y1="680.60" x2="426.60" y2="684.20" stroke="#555" stroke-width="0.45"/>
<line x1="427.58" y1="680.60" x2="427.58" y2="682.60" stroke="#555" stroke-width="0.45"/>
<line x1="428.56" y1="680.60" x2="428.56" y2="682.60" stroke="#555" stroke-width="0.45"/>
<line x1="429.54" y1="680.60" x2="429.54" y2="682.60" stroke="#555" stroke-width="0.45"/>
<line x1="430.52" y1="680.60" x2="430.52" y2="682.60" stroke="#555" stroke-width="0.45"/>
<line x1="431.50" y1="680.60" x2="431.50" y2="684.20" stroke="#555" stroke-width="0.45"/>
<line x1="432.48" y1="680.60" x2="432.48" y2="682.60" stroke="#555" stroke-width="0.45"/>
<line x1="433.46" y1="680.60" x2="433.46" y2="682.60" stroke="#555" stroke-width="0.45"/>
<line x1="434.44" y1="680.60" x2="434.44" y2="682.60" stroke="#555" stroke-width="0.45"/>
<line x1="435.42" y1="680.60" x2="435.42" y2="682.60" stroke="#555" stroke-width="0.45"/>
<line x1="436.40" y1="680.60" x2="436.40" y2="684.20" stroke="#555" stroke-width="0.45"/>
<line x1="437.38" y1="680.60" x2="437.38" y2="682.60" stroke="#555" stroke-width="0.45"/>
<line x1="438.36" y1="680.60" x2="438.36" y2="682.60" stroke="#555" stroke-width="0.45"/>
<line x1="439.34" y1="680.60" x2="439.34" y2="682.60" stroke="#555" stroke-width="0.45"/>
<line x1="440.32" y1="680.60" x2="440.32" y2="682.60" stroke="#555" stroke-width="0.45"/>
<line x1="441.30" y1="680.60" x2="441.30" y2="684.20" stroke="#555" stroke-width="0.45"/>
<line x1="442.28" y1="680.60" x2="442.28" y2="682.60" stroke="#555" stroke-width="0.45"/>
<line x1="443.26" y1="680.60" x2="443.26" y2="682.60" stroke="#555" stroke-width="0.45"/>
<line x1="444.24" y1="680.60" x2="444.24" y2="682.60" stroke="#555" stroke-width="0.45"/>
<line x1="445.22" y1="680.60" x2="445.22" y2="682.60" stroke="#555" stroke-width="0.45"/>
<line x1="446.20" y1="680.60" x2="446.20" y2="684.20" stroke="#555" stroke-width="0.45"/>
<line x1="447.18" y1="680.60" x2="447.18" y2="682.60" stroke="#555" stroke-width="0.45"/>
<line x1="448.16" y1="680.60" x2="448.16" y2="682.60" stroke="#555" stroke-width="0.45"/>
<line x1="449.14" y1="680.60" x2="449.14" y2="682.60" stroke="#555" stroke-width="0.45"/>
<line x1="450.12" y1="680.60" x2="450.12" y2="682.60" stroke="#555" stroke-width="0.45"/>
<line x1="451.10" y1="680.60" x2="451.10" y2="684.20" stroke="#555" stroke-width="0.45"/>
<line x1="452.08" y1="680.60" x2="452.08" y2="682.60" stroke="#555" stroke-width="0.45"/>
<line x1="453.06" y1="680.60" x2="453.06" y2="682.60" stroke="#555" stroke-width="0.45"/>
<line x1="454.04" y1="680.60" x2="454.04" y2="682.60" stroke="#555" stroke-width="0.45"/>
<line x1="455.02" y1="680.60" x2="455.02" y2="682.60" stroke="#555" stroke-width="0.45"/>
<line x1="456.00" y1="680.60" x2="456.00" y2="684.20" stroke="#555" stroke-width="0.45"/>
<line x1="456.98" y1="680.60" x2="456.98" y2="682.60" stroke="#555" stroke-width="0.45"/>
<line x1="457.96" y1="680.60" x2="457.96" y2="682.60" stroke="#555" stroke-width="0.45"/>
<line x1="458.94" y1="680.60" x2="458.94" y2="682.60" stroke="#555" stroke-width="0.45"/>
<line x1="459.92" y1="680.60" x2="459.92" y2="682.60" stroke="#555" stroke-width="0.45"/>
<line x1="428.40" y1="685.80" x2="428.40" y2="687.60" stroke="#666" stroke-width="0.8"/>
<line x1="433.30" y1="685.80" x2="433.30" y2="687.60" stroke="#666" stroke-width="0.8"/>
<line x1="438.20" y1="685.80" x2="438.20" y2="687.60" stroke="#666" stroke-width="0.8"/>
<line x1="443.10" y1="685.80" x2="443.10" y2="687.60" stroke="#666" stroke-width="0.8"/>
<line x1="448.00" y1="685.80" x2="448.00" y2="687.60" stroke="#666" stroke-width="0.8"/>
<line x1="452.90" y1="685.80" x2="452.90" y2="687.60" stroke="#666" stroke-width="0.8"/>
<line x1="457.80" y1="685.80" x2="457.80" y2="687.60" stroke="#666" stroke-width="0.8"/>
<line x1="426.00" y1="689.00" x2="460.40" y2="689.00" stroke="#888" stroke-width="0.6"/>
<ellipse cx="433.5" cy="594.3" rx="5.70" ry="3.80" fill="url(#tgA)" filter="url(#bs)"/>
<ellipse cx="453.3" cy="594.5" rx="3.00" ry="2.60" fill="url(#tgB)" filter="url(#bs)"/>
<ellipse cx="433.5" cy="609.1" rx="4.75" ry="3.80" fill="url(#tgA)" filter="url(#bs)"/>
<ellipse cx="454.2" cy="610.5" rx="3.80" ry="3.10" fill="url(#tgC)" filter="url(#bs)"/>
<ellipse cx="433.6" cy="627.8" rx="5.85" ry="4.80" fill="url(#tgA)" filter="url(#bs)"/>
<ellipse cx="454.8" cy="628.6" rx="3.75" ry="3.50" fill="url(#tgA)" filter="url(#bs)"/>
<ellipse cx="433.4" cy="646.4" rx="5.60" ry="5.00" fill="url(#tgC2)" filter="url(#bs)"/>
<ellipse cx="454.8" cy="646.7" rx="4.10" ry="3.90" fill="url(#tgA)" filter="url(#bs)"/>
<ellipse cx="433.3" cy="664.6" rx="5.65" ry="5.85" fill="url(#tgB)" filter="url(#bs)"/>
<ellipse cx="454.5" cy="667.2" rx="4.40" ry="4.55" fill="url(#tgC2)" filter="url(#bs)"/>
<ellipse cx="429.2" cy="595.2" rx="1.5" ry="1.3" fill="#8a1a10" filter="url(#bs)"/>
<rect x="0.5" y="0.5" width="519" height="729" fill="none" stroke="#4d4d4d" stroke-width="1.05"/>
</svg>
</body></html>
